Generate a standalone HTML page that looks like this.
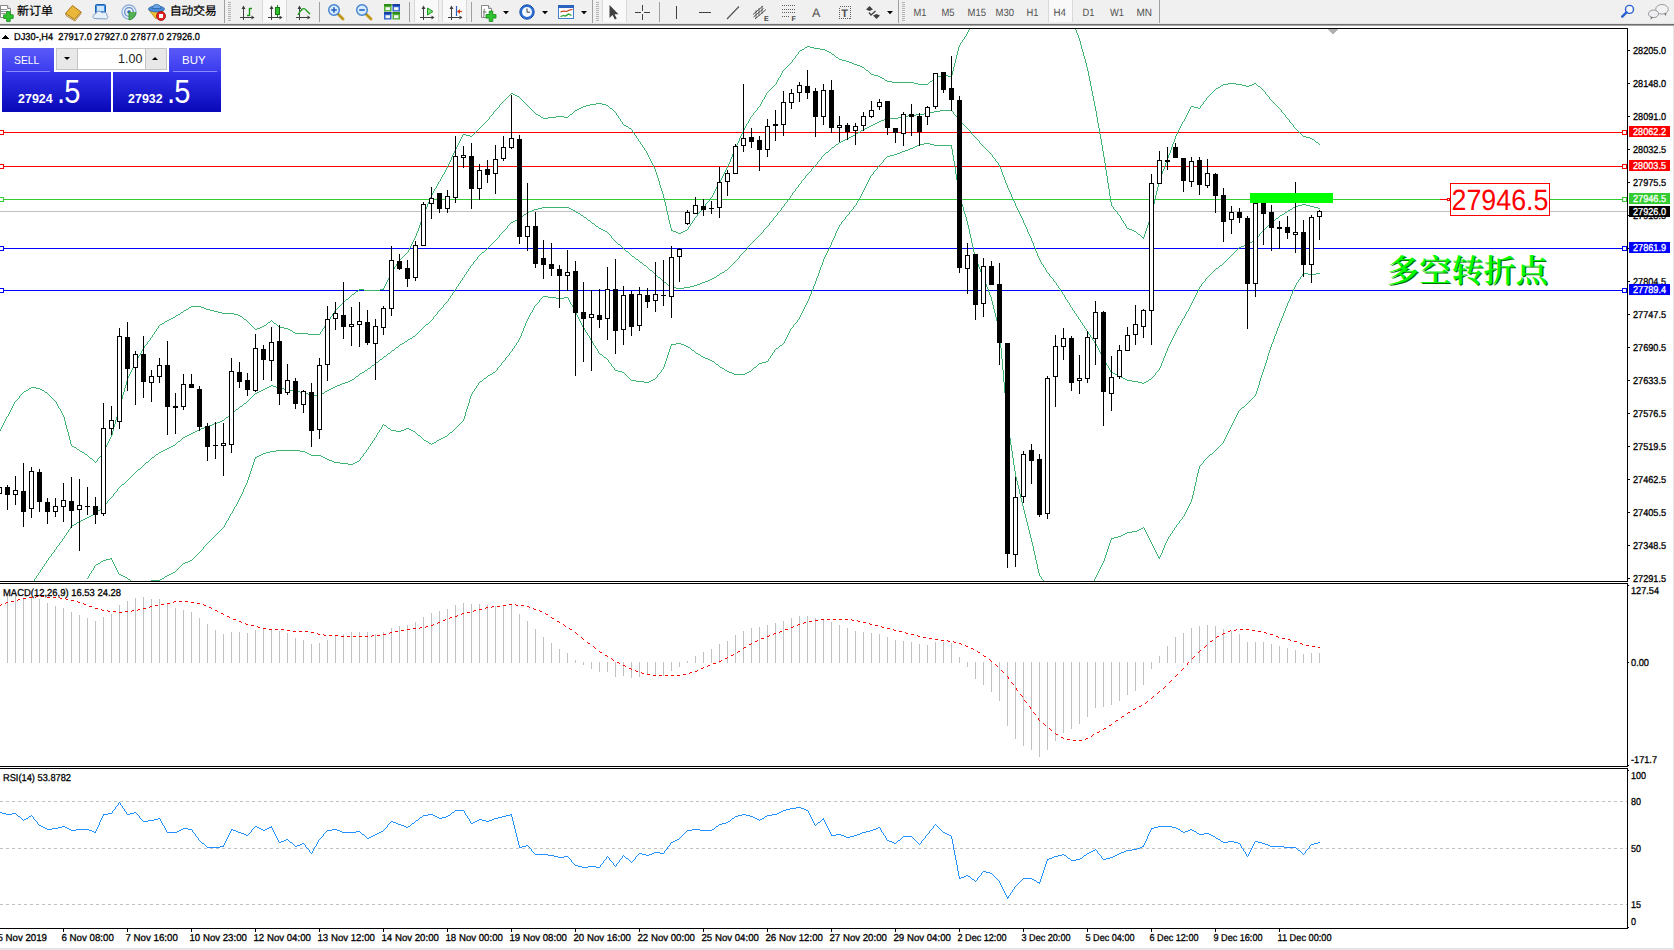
<!DOCTYPE html>
<html><head><meta charset="utf-8"><title>DJ30-,H4</title>
<style>
html,body{margin:0;padding:0;background:#fff;overflow:hidden}
body{width:1674px;height:950px;position:relative;font-family:"Liberation Sans","Noto Sans CJK SC",sans-serif}
#tb{position:absolute;left:0;top:0;width:1674px;height:23px;background:#f0f0f0}
#tbl1{position:absolute;left:0;top:23px;width:1674px;height:1px;background:#e4e4e4}
#tbl2{position:absolute;left:0;top:24px;width:1674px;height:1px;background:#6e6e6e}
#tbl3{position:absolute;left:0;top:25px;width:1674px;height:1px;background:#a6a6a6}
#bot{position:absolute;left:0;top:948px;width:1674px;height:2px;background:#e4e4e4}
#rgt{position:absolute;left:1673px;top:26px;width:1px;height:924px;background:#e8e8e8}
.t{position:absolute;white-space:nowrap}
.sep{position:absolute;top:2px;width:1px;height:20px;background:#a0a0a0}
.grip{position:absolute;top:2px;width:3px;height:19px;background:repeating-linear-gradient(#b8b8b8 0 1px,#f0f0f0 1px 2px)}
.sel{position:absolute;top:0;height:22px;background:#f8f8f8;border:1px solid #d8d8d8;border-top:none;box-sizing:border-box}
.tf{position:absolute;top:6px;font-size:10.5px;color:#505050}
.dd{position:absolute;top:11px;width:0;height:0;border-left:3px solid transparent;border-right:3px solid transparent;border-top:3px solid #000}
svg{position:absolute;left:0;top:0}
svg text{font-family:"Liberation Sans",sans-serif;text-rendering:geometricPrecision}
.k{stroke:#000;stroke-width:0.3px}
.kw{stroke:#fff;stroke-width:0.3px}
#tp{position:absolute;left:2px;top:48px;width:219px;height:64px}
#tp div{position:absolute}
.ic{position:absolute}
</style></head><body>
<div id="tb"></div><div id="tbl1"></div><div id="tbl2"></div><div id="tbl3"></div>
<div id="bot"></div><div id="rgt"></div>
<svg width="1674" height="24" viewBox="0 0 1674 24" style="position:absolute;left:0;top:0">
<g><path d="M0.5 5.5h7l3 3v9h-10z" fill="#fff" stroke="#8a8a8a"/><path d="M7.5 5.5v3h3" fill="#e8e8e8" stroke="#8a8a8a"/><path d="M1 9.5h6M1 11.5h7M1 13.5h5" stroke="#9a9a9a"/><path d="M3.6 14.8h3v-3.2h3.6v3.2h3v3.6h-3v3.2h-3.6v-3.2h-3z" fill="#2fc12f" stroke="#138a13" stroke-width="0.8"/></g>
<text x="17" y="14.8" font-size="12" fill="#000" stroke="#000" stroke-width="0.2" style="font-family:'Liberation Sans','Noto Sans CJK SC',sans-serif">新订单</text>
<g><path d="M65.5 13.5l7-8 8.5 6.5-6.5 7.5z" fill="#e9b73a" stroke="#a9741a" stroke-width="1"/><path d="M65.5 13.5l1 2.5 8.5 5 6-7.5v-1.5l-6.5 7.5z" fill="#f6e6b0" stroke="#a9741a" stroke-width="0.8"/></g>
<g><rect x="95.5" y="4.5" width="10" height="9" rx="1" fill="#3f8fe0" stroke="#1d5fb0"/><rect x="97" y="6" width="7" height="5" fill="#cfe6ff"/><path d="M94 18.5a2.5 2.5 0 0 1 1.5-4.5 3.5 3.5 0 0 1 6.5-1 3 3 0 0 1 5 2.5 2 2 0 0 1-0.5 3.5z" fill="#e8f0fa" stroke="#7d9cc4" stroke-width="1"/></g>
<g fill="none"><circle cx="129" cy="12" r="7" stroke="#8fb0e0" stroke-width="1.3"/><circle cx="129" cy="12" r="4.3" stroke="#5a8ad0" stroke-width="1.3"/><circle cx="129" cy="12" r="1.8" fill="#2a62c0"/><path d="M129 12v8a8 8 0 0 0 7-8" fill="#55b055" stroke="#2f8f2f" stroke-width="0.8"/></g>
<g><path d="M149 10l7 9 8-9z" fill="#f1c232" stroke="#b48a12" stroke-width="0.8"/><ellipse cx="156.5" cy="9" rx="8" ry="3" fill="#4c8fd6" stroke="#2a62a8" stroke-width="0.8"/><path d="M152 8.5a4.5 4 0 0 1 9 0z" fill="#6aa6e6" stroke="#2a62a8" stroke-width="0.8"/><circle cx="161" cy="16" r="4.5" fill="#e02020" stroke="#a00c0c" stroke-width="0.8"/><rect x="159" y="14" width="4" height="4" fill="#fff"/></g>
<text x="169.7" y="14.8" font-size="12" fill="#000" stroke="#000" stroke-width="0.2" textLength="47" style="font-family:'Liberation Sans','Noto Sans CJK SC',sans-serif">自动交易</text>
<rect x="224" y="0" width="1" height="23" fill="#a0a0a0"/>
<rect x="228" y="2" width="3" height="1" fill="#b4b4b4"/>
<rect x="228" y="4" width="3" height="1" fill="#b4b4b4"/>
<rect x="228" y="6" width="3" height="1" fill="#b4b4b4"/>
<rect x="228" y="8" width="3" height="1" fill="#b4b4b4"/>
<rect x="228" y="10" width="3" height="1" fill="#b4b4b4"/>
<rect x="228" y="12" width="3" height="1" fill="#b4b4b4"/>
<rect x="228" y="14" width="3" height="1" fill="#b4b4b4"/>
<rect x="228" y="16" width="3" height="1" fill="#b4b4b4"/>
<rect x="228" y="18" width="3" height="1" fill="#b4b4b4"/>
<rect x="228" y="20" width="3" height="1" fill="#b4b4b4"/>
<g stroke="#404040" stroke-width="1" fill="none" shape-rendering="crispEdges"><line x1="243.5" y1="7" x2="243.5" y2="20"/><line x1="240" y1="17.5" x2="254" y2="17.5"/></g>
<polygon points="241.5,9 243.5,5.5 245.5,9" fill="#404040"/><polygon points="251.5,15.5 254.5,17.5 251.5,19.5" fill="#404040"/>
<path d="M249.5 8v8M249.5 8.5h2.5M247 15.5h2.5" stroke="#1a9a1a" stroke-width="1.4" fill="none"/>
<rect x="262" y="0" width="25" height="22" fill="#f9f9f9"/><rect x="262" y="0" width="1" height="22" fill="#d9d9d9"/><rect x="286" y="0" width="1" height="22" fill="#d9d9d9"/>
<g stroke="#404040" stroke-width="1" fill="none" shape-rendering="crispEdges"><line x1="271.5" y1="7" x2="271.5" y2="20"/><line x1="268" y1="17.5" x2="282" y2="17.5"/></g>
<polygon points="269.5,9 271.5,5.5 273.5,9" fill="#404040"/><polygon points="279.5,15.5 282.5,17.5 279.5,19.5" fill="#404040"/>
<path d="M277.5 5v12" stroke="#1a7a1a" stroke-width="1"/><rect x="275.5" y="7.5" width="4" height="7" fill="#2fc12f" stroke="#1a7a1a"/>
<g stroke="#404040" stroke-width="1" fill="none" shape-rendering="crispEdges"><line x1="299.5" y1="7" x2="299.5" y2="20"/><line x1="296" y1="17.5" x2="310" y2="17.5"/></g>
<polygon points="297.5,9 299.5,5.5 301.5,9" fill="#404040"/><polygon points="307.5,15.5 310.5,17.5 307.5,19.5" fill="#404040"/>
<path d="M298 15c3-6 6-8 8-5l4 4" stroke="#1a9a1a" stroke-width="1.3" fill="none"/>
<rect x="319" y="2" width="1" height="20" fill="#a0a0a0"/>
<path d="M337.5 13.5l5.5 5.5" stroke="#c9a227" stroke-width="3" stroke-linecap="round"/><path d="M337.5 13.5l5.5 5.5" stroke="#8a6d10" stroke-width="0.6" fill="none"/>
<circle cx="334" cy="10" r="5.3" fill="#d8ecff" stroke="#3f7fd0" stroke-width="1.4"/>
<path d="M331.2 10h5.6" stroke="#2a62c0" stroke-width="1.6"/>
<path d="M334 7.2v5.6" stroke="#2a62c0" stroke-width="1.6"/>
<path d="M365.5 13.5l5.5 5.5" stroke="#c9a227" stroke-width="3" stroke-linecap="round"/><path d="M365.5 13.5l5.5 5.5" stroke="#8a6d10" stroke-width="0.6" fill="none"/>
<circle cx="362" cy="10" r="5.3" fill="#d8ecff" stroke="#3f7fd0" stroke-width="1.4"/>
<path d="M359.2 10h5.6" stroke="#2a62c0" stroke-width="1.6"/>
<rect x="384" y="4" width="7.5" height="7.5" fill="#4caf2f"/><rect x="384" y="4" width="7.5" height="2" fill="#2f8a1a"/><rect x="385.5" y="7.2" width="4.5" height="3" fill="#f4f4f4"/>
<rect x="392.5" y="4" width="7.5" height="7.5" fill="#2a62d0"/><rect x="392.5" y="4" width="7.5" height="2" fill="#1a3fa0"/><rect x="394.0" y="7.2" width="4.5" height="3" fill="#f4f4f4"/>
<rect x="384" y="12" width="7.5" height="7.5" fill="#2a62d0"/><rect x="384" y="12" width="7.5" height="2" fill="#1a3fa0"/><rect x="385.5" y="15.2" width="4.5" height="3" fill="#f4f4f4"/>
<rect x="392.5" y="12" width="7.5" height="7.5" fill="#4caf2f"/><rect x="392.5" y="12" width="7.5" height="2" fill="#2f8a1a"/><rect x="394.0" y="15.2" width="4.5" height="3" fill="#f4f4f4"/>
<rect x="409" y="2" width="1" height="20" fill="#a0a0a0"/>
<rect x="414" y="0" width="25" height="22" fill="#f9f9f9"/><rect x="414" y="0" width="1" height="22" fill="#d9d9d9"/><rect x="438" y="0" width="1" height="22" fill="#d9d9d9"/>
<g stroke="#404040" stroke-width="1" fill="none" shape-rendering="crispEdges"><line x1="423.5" y1="7" x2="423.5" y2="20"/><line x1="420" y1="17.5" x2="434" y2="17.5"/></g>
<polygon points="421.5,9 423.5,5.5 425.5,9" fill="#404040"/><polygon points="431.5,15.5 434.5,17.5 431.5,19.5" fill="#404040"/>
<polygon points="427.5,8 427.5,15 433,11.5" fill="#7fe07f" stroke="#1a9a1a" stroke-width="1"/>
<rect x="442" y="0" width="25" height="22" fill="#f9f9f9"/><rect x="442" y="0" width="1" height="22" fill="#d9d9d9"/><rect x="466" y="0" width="1" height="22" fill="#d9d9d9"/>
<g stroke="#404040" stroke-width="1" fill="none" shape-rendering="crispEdges"><line x1="451.5" y1="7" x2="451.5" y2="20"/><line x1="448" y1="17.5" x2="462" y2="17.5"/></g>
<polygon points="449.5,9 451.5,5.5 453.5,9" fill="#404040"/><polygon points="459.5,15.5 462.5,17.5 459.5,19.5" fill="#404040"/>
<path d="M456.5 6v10" stroke="#2a62c0" stroke-width="1.2"/><path d="M462 11.5h-4" stroke="#d04010" stroke-width="1.2"/><polygon points="460,9 457,11.5 460,14" fill="#d04010"/>
<rect x="471" y="2" width="1" height="20" fill="#a0a0a0"/>
<path d="M481.5 5.5h7l3 3v9h-10z" fill="#fff" stroke="#8a8a8a"/><path d="M488.5 5.5v3h3" fill="#e8e8e8" stroke="#8a8a8a"/><path d="M485 9c-1 0-1 1-1 2v4c0 1 0 2-1 2M483.5 12h3" stroke="#6a6a6a" fill="none"/><path d="M486 14.5h3.2v-3.4h3.6v3.4h3.2v3.6h-3.2v3.4h-3.6v-3.4h-3.2z" fill="#2fc12f" stroke="#138a13" stroke-width="0.8"/>
<polygon points="503,11 509,11 506,14.2" fill="#000"/>
<circle cx="527" cy="12" r="7.2" fill="#2a6fd8" stroke="#1a4fa8" stroke-width="1"/><circle cx="527" cy="12" r="5" fill="#f4f8ff"/><path d="M527 8.5v3.7h3" stroke="#404040" stroke-width="1" fill="none"/>
<polygon points="542,11 548,11 545,14.2" fill="#000"/>
<rect x="558.5" y="5.500" width="15" height="13" fill="#fbfbfb" stroke="#3f7fd0"/><rect x="558" y="5" width="16" height="3" fill="#2a62c0"/><path d="M560.500 12l3-1 3 0.500 3-1.500 3-0.500" stroke="#c03010" stroke-width="1.200" fill="none"/><path d="M560.500 16.500l3-1 2 0.500 3-2 3 1.500" stroke="#1a9a1a" stroke-width="1.200" fill="none"/>
<polygon points="581,11 587,11 584,14.2" fill="#000"/>
<rect x="592" y="0" width="1" height="23" fill="#a0a0a0"/>
<rect x="596" y="2" width="3" height="1" fill="#b4b4b4"/>
<rect x="596" y="4" width="3" height="1" fill="#b4b4b4"/>
<rect x="596" y="6" width="3" height="1" fill="#b4b4b4"/>
<rect x="596" y="8" width="3" height="1" fill="#b4b4b4"/>
<rect x="596" y="10" width="3" height="1" fill="#b4b4b4"/>
<rect x="596" y="12" width="3" height="1" fill="#b4b4b4"/>
<rect x="596" y="14" width="3" height="1" fill="#b4b4b4"/>
<rect x="596" y="16" width="3" height="1" fill="#b4b4b4"/>
<rect x="596" y="18" width="3" height="1" fill="#b4b4b4"/>
<rect x="596" y="20" width="3" height="1" fill="#b4b4b4"/>
<rect x="602" y="0" width="25" height="22" fill="#f9f9f9"/><rect x="602" y="0" width="1" height="22" fill="#d9d9d9"/><rect x="626" y="0" width="1" height="22" fill="#d9d9d9"/>
<path d="M609.500 5v13l3-3 2.300 4.600 2-1-2.300-4.400h4z" fill="#404040"/>
<path d="M642.500 5v6M642.500 14v6M635 12.500h6M644 12.500h6" stroke="#404040" stroke-width="1" shape-rendering="crispEdges"/>
<rect x="659" y="2" width="1" height="20" fill="#a0a0a0"/>
<rect x="676" y="6" width="1" height="13" fill="#404040"/>
<rect x="699" y="12" width="12" height="1" fill="#404040"/>
<path d="M727 19l12-12.500" stroke="#505050" stroke-width="1.100"/>
<g stroke="#505050" stroke-width="1" fill="none"><path d="M753 14.500l10-8.500M755 19l11-9.500M753.500 17l10-8.500"/><path d="M756 10v8M759 8v8M762 6v8" stroke-width="0.800"/></g>
<text x="764" y="20.500" font-size="7" font-weight="700" fill="#404040" style="font-family:'Liberation Sans',sans-serif">E</text>
<path d="M782 5.5h13" stroke="#606060" stroke-width="1" stroke-dasharray="1 1" shape-rendering="crispEdges"/>
<path d="M782 9.5h13" stroke="#606060" stroke-width="1" stroke-dasharray="1 1" shape-rendering="crispEdges"/>
<path d="M782 12.5h13" stroke="#606060" stroke-width="1" stroke-dasharray="1 1" shape-rendering="crispEdges"/>
<path d="M782 16.5h8" stroke="#606060" stroke-width="1" stroke-dasharray="1 1" shape-rendering="crispEdges"/>
<text x="791.500" y="20.500" font-size="7" font-weight="700" fill="#404040" style="font-family:'Liberation Sans',sans-serif">F</text>
<text x="812" y="17" font-size="12.500" fill="#505050" style="font-family:'Liberation Sans',sans-serif">A</text>
<rect x="839.500" y="6.500" width="11" height="12" fill="none" stroke="#606060" stroke-dasharray="1 1" shape-rendering="crispEdges"/><text x="841.300" y="17" font-size="11" font-weight="700" fill="#505050" style="font-family:'Liberation Sans',sans-serif">T</text>
<polygon points="866,9.500 869.500,6 873,9.500 869.500,11" fill="#404040"/><polygon points="873,15.500 876.500,19 880,15.500 876.500,14" fill="#404040"/><path d="M869 12.500l2 2.500 4.500-4" stroke="#404040" stroke-width="1.300" fill="none"/>
<polygon points="887,11 893,11 890,14.2" fill="#000"/>
<rect x="898" y="0" width="1" height="23" fill="#a0a0a0"/>
<rect x="902" y="2" width="3" height="1" fill="#b4b4b4"/>
<rect x="902" y="4" width="3" height="1" fill="#b4b4b4"/>
<rect x="902" y="6" width="3" height="1" fill="#b4b4b4"/>
<rect x="902" y="8" width="3" height="1" fill="#b4b4b4"/>
<rect x="902" y="10" width="3" height="1" fill="#b4b4b4"/>
<rect x="902" y="12" width="3" height="1" fill="#b4b4b4"/>
<rect x="902" y="14" width="3" height="1" fill="#b4b4b4"/>
<rect x="902" y="16" width="3" height="1" fill="#b4b4b4"/>
<rect x="902" y="18" width="3" height="1" fill="#b4b4b4"/>
<rect x="902" y="20" width="3" height="1" fill="#b4b4b4"/>
<rect x="1048" y="0" width="25" height="22" fill="#f9f9f9"/><rect x="1048" y="0" width="1" height="22" fill="#d9d9d9"/><rect x="1072" y="0" width="1" height="22" fill="#d9d9d9"/>
<text x="913.5" y="16" font-size="10.500" fill="#505050" textLength="13" lengthAdjust="spacingAndGlyphs" style="font-family:'Liberation Sans',sans-serif">M1</text>
<text x="941.5" y="16" font-size="10.500" fill="#505050" textLength="13" lengthAdjust="spacingAndGlyphs" style="font-family:'Liberation Sans',sans-serif">M5</text>
<text x="967.5" y="16" font-size="10.500" fill="#505050" textLength="18.5" lengthAdjust="spacingAndGlyphs" style="font-family:'Liberation Sans',sans-serif">M15</text>
<text x="995.5" y="16" font-size="10.500" fill="#505050" textLength="18.5" lengthAdjust="spacingAndGlyphs" style="font-family:'Liberation Sans',sans-serif">M30</text>
<text x="1026.5" y="16" font-size="10.500" fill="#505050" textLength="12" lengthAdjust="spacingAndGlyphs" style="font-family:'Liberation Sans',sans-serif">H1</text>
<text x="1053.5" y="16" font-size="10.500" fill="#505050" textLength="12.5" lengthAdjust="spacingAndGlyphs" style="font-family:'Liberation Sans',sans-serif">H4</text>
<text x="1082.5" y="16" font-size="10.500" fill="#505050" textLength="12" lengthAdjust="spacingAndGlyphs" style="font-family:'Liberation Sans',sans-serif">D1</text>
<text x="1110" y="16" font-size="10.500" fill="#505050" textLength="14" lengthAdjust="spacingAndGlyphs" style="font-family:'Liberation Sans',sans-serif">W1</text>
<text x="1136.5" y="16" font-size="10.500" fill="#505050" textLength="15.5" lengthAdjust="spacingAndGlyphs" style="font-family:'Liberation Sans',sans-serif">MN</text>
<rect x="1159" y="0" width="1" height="23" fill="#a0a0a0"/>
<circle cx="1629.500" cy="9.400" r="4" fill="#f8f8f8" stroke="#2a5fd0" stroke-width="1.400"/><path d="M1626.500 12.400l-4.300 4.300" stroke="#2a5fd0" stroke-width="2.400" stroke-linecap="round"/>
<g transform="translate(0,0.8)"><ellipse cx="1662" cy="8.500" rx="6.300" ry="4.800" fill="#f2f2f5" stroke="#9a9a9a"/><path d="M1664 12.500l2 3 0.300-3.300" fill="#707070"/><ellipse cx="1653.500" cy="13" rx="5" ry="3.800" fill="#ededf2" stroke="#959595"/><path d="M1651 16l-0.500 3 2.500-2.600" fill="#707070"/></g>
</svg>
<svg width="1674" height="950" viewBox="0 0 1674 950" shape-rendering="crispEdges">
<rect x="0" y="28" width="1628" height="1" fill="#000"/>
<rect x="1627" y="28" width="1" height="554" fill="#000"/>
<rect x="0" y="581" width="1628" height="1" fill="#000"/>
<rect x="0" y="583" width="1628" height="1" fill="#000"/>
<rect x="1627" y="583" width="1" height="184" fill="#000"/>
<rect x="0" y="766" width="1628" height="1" fill="#000"/>
<rect x="0" y="768" width="1628" height="1" fill="#000"/>
<rect x="1627" y="768" width="1" height="161" fill="#000"/>
<rect x="0" y="928" width="1628" height="1" fill="#000"/>
<rect x="1628" y="50" width="2" height="1" fill="#000"/>
<text x="1633" y="53.6" font-size="10" fill="#000" class="k" textLength="33" lengthAdjust="spacingAndGlyphs">28205.0</text>
<rect x="1628" y="83" width="2" height="1" fill="#000"/>
<text x="1633" y="86.6" font-size="10" fill="#000" class="k" textLength="33" lengthAdjust="spacingAndGlyphs">28148.0</text>
<rect x="1628" y="116" width="2" height="1" fill="#000"/>
<text x="1633" y="119.6" font-size="10" fill="#000" class="k" textLength="33" lengthAdjust="spacingAndGlyphs">28091.0</text>
<rect x="1628" y="149" width="2" height="1" fill="#000"/>
<text x="1633" y="152.6" font-size="10" fill="#000" class="k" textLength="33" lengthAdjust="spacingAndGlyphs">28032.5</text>
<rect x="1628" y="182" width="2" height="1" fill="#000"/>
<text x="1633" y="185.6" font-size="10" fill="#000" class="k" textLength="33" lengthAdjust="spacingAndGlyphs">27975.5</text>
<rect x="1628" y="215" width="2" height="1" fill="#000"/>
<text x="1633" y="218.6" font-size="10" fill="#000" class="k" textLength="33" lengthAdjust="spacingAndGlyphs">27918.5</text>
<rect x="1628" y="248" width="2" height="1" fill="#000"/>
<text x="1633" y="251.6" font-size="10" fill="#000" class="k" textLength="33" lengthAdjust="spacingAndGlyphs">27861.5</text>
<rect x="1628" y="281" width="2" height="1" fill="#000"/>
<text x="1633" y="284.6" font-size="10" fill="#000" class="k" textLength="33" lengthAdjust="spacingAndGlyphs">27804.5</text>
<rect x="1628" y="314" width="2" height="1" fill="#000"/>
<text x="1633" y="317.6" font-size="10" fill="#000" class="k" textLength="33" lengthAdjust="spacingAndGlyphs">27747.5</text>
<rect x="1628" y="347" width="2" height="1" fill="#000"/>
<text x="1633" y="350.6" font-size="10" fill="#000" class="k" textLength="33" lengthAdjust="spacingAndGlyphs">27690.5</text>
<rect x="1628" y="380" width="2" height="1" fill="#000"/>
<text x="1633" y="383.6" font-size="10" fill="#000" class="k" textLength="33" lengthAdjust="spacingAndGlyphs">27633.5</text>
<rect x="1628" y="413" width="2" height="1" fill="#000"/>
<text x="1633" y="416.6" font-size="10" fill="#000" class="k" textLength="33" lengthAdjust="spacingAndGlyphs">27576.5</text>
<rect x="1628" y="446" width="2" height="1" fill="#000"/>
<text x="1633" y="449.6" font-size="10" fill="#000" class="k" textLength="33" lengthAdjust="spacingAndGlyphs">27519.5</text>
<rect x="1628" y="479" width="2" height="1" fill="#000"/>
<text x="1633" y="482.6" font-size="10" fill="#000" class="k" textLength="33" lengthAdjust="spacingAndGlyphs">27462.5</text>
<rect x="1628" y="512" width="2" height="1" fill="#000"/>
<text x="1633" y="515.6" font-size="10" fill="#000" class="k" textLength="33" lengthAdjust="spacingAndGlyphs">27405.5</text>
<rect x="1628" y="545" width="2" height="1" fill="#000"/>
<text x="1633" y="548.6" font-size="10" fill="#000" class="k" textLength="33" lengthAdjust="spacingAndGlyphs">27348.5</text>
<rect x="1628" y="578" width="2" height="1" fill="#000"/>
<text x="1633" y="581.6" font-size="10" fill="#000" class="k" textLength="33" lengthAdjust="spacingAndGlyphs">27291.5</text>
<clipPath id="cm"><rect x="0" y="29" width="1627" height="552"/></clipPath>
<g clip-path="url(#cm)">
<rect x="0" y="132" width="1627" height="1" fill="#ff0000"/>
<rect x="0" y="166" width="1627" height="1" fill="#ff0000"/>
<rect x="0" y="199" width="1627" height="1" fill="#32cd32"/>
<rect x="0" y="211" width="1627" height="1" fill="#c0c0c0"/>
<rect x="0" y="248" width="1627" height="1" fill="#0000ff"/>
<rect x="0" y="290" width="1627" height="1" fill="#0000ff"/>
<path d="M969 29h1v1h-1zM1075 29h1v1h-1zM968 30h1v2h-1zM1076 30h1v3h-1zM967 32h1v2h-1zM1077 33h1v2h-1zM966 34h1v2h-1zM1078 35h1v3h-1zM965 36h1v1h-1zM964 37h1v2h-1zM1079 38h1v3h-1zM963 39h1v1h-1zM962 40h1v2h-1zM1080 41h1v4h-1zM961 42h1v1h-1zM960 43h1v2h-1zM959 45h1v2h-1zM1081 45h1v4h-1zM807 46h3v1h-3zM805 47h2v1h-2zM810 47h4v1h-4zM958 47h1v4h-1zM804 48h1v1h-1zM814 48h6v1h-6zM802 49h2v1h-2zM820 49h5v1h-5zM1082 49h1v3h-1zM800 50h2v1h-2zM825 50h2v1h-2zM799 51h1v1h-1zM827 51h2v1h-2zM957 51h1v4h-1zM798 52h1v2h-1zM829 52h2v1h-2zM1083 52h1v4h-1zM831 53h1v1h-1zM797 54h1v1h-1zM832 54h2v1h-2zM796 55h1v1h-1zM834 55h1v1h-1zM956 55h1v4h-1zM795 56h1v2h-1zM835 56h1v1h-1zM1084 56h1v3h-1zM836 57h2v1h-2zM794 58h1v1h-1zM838 58h1v1h-1zM793 59h1v1h-1zM839 59h3v1h-3zM955 59h1v4h-1zM1085 59h1v4h-1zM792 60h1v2h-1zM842 60h4v1h-4zM846 61h3v1h-3zM791 62h1v1h-1zM849 62h3v1h-3zM790 63h1v1h-1zM852 63h2v1h-2zM954 63h1v4h-1zM1086 63h1v4h-1zM789 64h1v1h-1zM854 64h3v1h-3zM788 65h1v1h-1zM857 65h3v1h-3zM787 66h1v1h-1zM860 66h2v1h-2zM786 67h1v1h-1zM862 67h2v1h-2zM953 67h1v4h-1zM1087 67h1v4h-1zM785 68h1v1h-1zM864 68h1v1h-1zM784 69h1v1h-1zM865 69h1v1h-1zM783 70h1v1h-1zM866 70h2v1h-2zM782 71h1v2h-1zM868 71h1v1h-1zM952 71h1v4h-1zM1088 71h1v5h-1zM869 72h1v1h-1zM781 73h1v2h-1zM870 73h1v1h-1zM871 74h3v1h-3zM780 75h1v2h-1zM874 75h4v1h-4zM942 75h6v1h-6zM951 75h1v2h-1zM878 76h2v1h-2zM938 76h4v1h-4zM948 76h3v1h-3zM1089 76h1v5h-1zM779 77h1v1h-1zM880 77h2v1h-2zM935 77h3v1h-3zM778 78h1v2h-1zM882 78h2v1h-2zM934 78h1v1h-1zM884 79h1v1h-1zM933 79h1v1h-1zM777 80h1v2h-1zM885 80h2v1h-2zM932 80h1v1h-1zM887 81h5v1h-5zM930 81h2v1h-2zM1090 81h1v5h-1zM776 82h1v2h-1zM892 82h22v1h-22zM929 82h1v1h-1zM914 83h4v1h-4zM928 83h1v1h-1zM1228 83h8v1h-8zM1254 83h2v1h-2zM775 84h1v1h-1zM918 84h10v1h-10zM1223 84h5v1h-5zM1236 84h6v1h-6zM1252 84h2v1h-2zM1256 84h1v1h-1zM774 85h1v1h-1zM1221 85h2v1h-2zM1242 85h4v1h-4zM1249 85h3v1h-3zM1257 85h1v1h-1zM773 86h1v1h-1zM1091 86h1v5h-1zM1220 86h1v1h-1zM1246 86h3v1h-3zM1258 86h2v1h-2zM772 87h1v1h-1zM1218 87h2v1h-2zM1260 87h1v1h-1zM771 88h1v1h-1zM1216 88h2v1h-2zM1261 88h1v1h-1zM770 89h1v1h-1zM1215 89h1v1h-1zM1262 89h1v1h-1zM769 90h1v1h-1zM1214 90h1v1h-1zM1263 90h1v1h-1zM768 91h1v1h-1zM1092 91h1v5h-1zM1213 91h1v1h-1zM1264 91h1v1h-1zM767 92h1v1h-1zM1212 92h1v1h-1zM1265 92h1v2h-1zM511 93h2v1h-2zM766 93h1v2h-1zM1211 93h1v1h-1zM510 94h1v1h-1zM513 94h2v1h-2zM1210 94h1v1h-1zM1266 94h1v1h-1zM509 95h1v1h-1zM515 95h2v1h-2zM765 95h1v2h-1zM1209 95h1v1h-1zM1267 95h1v1h-1zM508 96h1v1h-1zM517 96h2v1h-2zM1093 96h1v5h-1zM1208 96h1v1h-1zM1268 96h1v1h-1zM507 97h1v1h-1zM519 97h1v1h-1zM764 97h1v2h-1zM1207 97h1v1h-1zM1269 97h1v2h-1zM506 98h1v1h-1zM520 98h1v1h-1zM1206 98h1v2h-1zM505 99h1v1h-1zM521 99h1v1h-1zM763 99h1v1h-1zM1270 99h1v1h-1zM504 100h1v1h-1zM522 100h1v1h-1zM762 100h1v2h-1zM1205 100h1v1h-1zM1271 100h1v1h-1zM503 101h1v1h-1zM523 101h1v1h-1zM1094 101h1v5h-1zM1204 101h1v1h-1zM1272 101h1v1h-1zM502 102h1v1h-1zM524 102h1v1h-1zM761 102h1v2h-1zM1203 102h1v2h-1zM1273 102h1v1h-1zM501 103h1v1h-1zM525 103h1v1h-1zM596 103h6v1h-6zM1274 103h1v1h-1zM500 104h1v1h-1zM526 104h1v1h-1zM590 104h6v1h-6zM602 104h4v1h-4zM760 104h1v2h-1zM1202 104h1v1h-1zM1275 104h1v1h-1zM499 105h1v2h-1zM527 105h1v1h-1zM586 105h4v1h-4zM606 105h2v1h-2zM1201 105h1v1h-1zM1276 105h1v1h-1zM528 106h1v1h-1zM583 106h3v1h-3zM608 106h1v1h-1zM759 106h1v1h-1zM1095 106h1v5h-1zM1191 106h3v1h-3zM1200 106h1v2h-1zM1277 106h1v1h-1zM498 107h1v1h-1zM529 107h1v1h-1zM581 107h2v1h-2zM609 107h1v1h-1zM758 107h1v1h-1zM1190 107h1v2h-1zM1194 107h4v1h-4zM1278 107h1v1h-1zM497 108h1v1h-1zM530 108h1v1h-1zM579 108h2v1h-2zM610 108h2v1h-2zM757 108h1v2h-1zM1198 108h2v1h-2zM1279 108h1v1h-1zM496 109h1v1h-1zM531 109h1v1h-1zM577 109h2v1h-2zM612 109h1v1h-1zM1189 109h1v2h-1zM1280 109h1v1h-1zM495 110h1v1h-1zM532 110h1v1h-1zM575 110h2v1h-2zM613 110h1v1h-1zM756 110h1v1h-1zM1281 110h1v2h-1zM494 111h1v1h-1zM533 111h1v1h-1zM574 111h1v1h-1zM614 111h1v1h-1zM755 111h1v1h-1zM1096 111h1v6h-1zM1188 111h1v2h-1zM493 112h1v2h-1zM534 112h1v1h-1zM573 112h1v1h-1zM615 112h1v1h-1zM754 112h1v1h-1zM1282 112h1v1h-1zM535 113h1v1h-1zM572 113h1v1h-1zM616 113h1v2h-1zM753 113h1v2h-1zM1187 113h1v2h-1zM1283 113h1v1h-1zM492 114h1v1h-1zM536 114h2v1h-2zM570 114h2v1h-2zM1284 114h1v1h-1zM491 115h1v1h-1zM538 115h2v1h-2zM569 115h1v1h-1zM617 115h1v1h-1zM752 115h1v1h-1zM1186 115h1v2h-1zM1285 115h1v2h-1zM490 116h1v1h-1zM540 116h1v1h-1zM556 116h8v1h-8zM568 116h1v1h-1zM618 116h1v2h-1zM751 116h1v1h-1zM489 117h1v2h-1zM541 117h2v1h-2zM548 117h8v1h-8zM564 117h4v1h-4zM750 117h1v2h-1zM1097 117h1v6h-1zM1185 117h1v2h-1zM1286 117h1v1h-1zM543 118h5v1h-5zM619 118h1v1h-1zM1287 118h1v1h-1zM488 119h1v1h-1zM620 119h1v2h-1zM749 119h1v2h-1zM1184 119h1v2h-1zM1288 119h1v1h-1zM487 120h1v1h-1zM1289 120h1v2h-1zM486 121h1v1h-1zM621 121h1v1h-1zM748 121h1v2h-1zM1183 121h1v1h-1zM485 122h1v1h-1zM622 122h1v2h-1zM1182 122h1v2h-1zM1290 122h1v1h-1zM484 123h1v1h-1zM747 123h1v1h-1zM1098 123h1v5h-1zM1291 123h1v1h-1zM483 124h1v1h-1zM623 124h1v1h-1zM746 124h1v2h-1zM1181 124h1v2h-1zM1292 124h1v1h-1zM482 125h1v1h-1zM624 125h2v1h-2zM1293 125h1v2h-1zM481 126h1v1h-1zM626 126h2v1h-2zM745 126h1v2h-1zM1180 126h1v2h-1zM480 127h1v1h-1zM628 127h1v1h-1zM1294 127h1v1h-1zM479 128h1v1h-1zM629 128h2v1h-2zM744 128h1v2h-1zM1099 128h1v6h-1zM1179 128h1v2h-1zM1295 128h1v1h-1zM478 129h1v1h-1zM631 129h1v1h-1zM1296 129h1v1h-1zM477 130h1v1h-1zM632 130h1v2h-1zM743 130h1v2h-1zM1178 130h1v2h-1zM1297 130h1v1h-1zM476 131h1v1h-1zM1298 131h1v1h-1zM475 132h1v1h-1zM633 132h1v1h-1zM742 132h1v2h-1zM1177 132h1v2h-1zM1299 132h1v1h-1zM474 133h1v1h-1zM634 133h1v2h-1zM1300 133h1v1h-1zM463 134h3v1h-3zM473 134h1v1h-1zM741 134h1v2h-1zM1100 134h1v5h-1zM1176 134h1v2h-1zM1301 134h1v1h-1zM462 135h1v2h-1zM466 135h4v1h-4zM472 135h1v1h-1zM635 135h1v1h-1zM1302 135h1v1h-1zM470 136h2v1h-2zM636 136h1v2h-1zM740 136h1v2h-1zM1175 136h1v3h-1zM1303 136h3v1h-3zM461 137h1v2h-1zM1306 137h4v1h-4zM637 138h1v1h-1zM739 138h1v3h-1zM1310 138h2v1h-2zM460 139h1v2h-1zM638 139h1v2h-1zM1101 139h1v6h-1zM1174 139h1v3h-1zM1312 139h2v1h-2zM1314 140h1v1h-1zM459 141h1v2h-1zM639 141h1v1h-1zM738 141h1v2h-1zM1315 141h1v1h-1zM640 142h1v2h-1zM1173 142h1v2h-1zM1316 142h2v1h-2zM458 143h1v2h-1zM737 143h1v2h-1zM1318 143h1v1h-1zM641 144h1v1h-1zM1172 144h1v3h-1zM1319 144h1v1h-1zM457 145h1v2h-1zM642 145h1v2h-1zM736 145h1v2h-1zM1102 145h1v6h-1zM456 147h1v2h-1zM643 147h1v1h-1zM735 147h1v3h-1zM1171 147h1v3h-1zM644 148h1v2h-1zM455 149h1v2h-1zM645 150h1v1h-1zM734 150h1v2h-1zM1170 150h1v3h-1zM454 151h1v2h-1zM646 151h1v2h-1zM1103 151h1v6h-1zM733 152h1v2h-1zM453 153h1v2h-1zM647 153h1v2h-1zM1169 153h1v2h-1zM732 154h1v3h-1zM452 155h1v2h-1zM648 155h1v2h-1zM1168 155h1v3h-1zM451 157h1v3h-1zM649 157h1v2h-1zM731 157h1v2h-1zM1104 157h1v6h-1zM1167 158h1v3h-1zM650 159h1v2h-1zM730 159h1v3h-1zM450 160h1v2h-1zM651 161h1v2h-1zM1166 161h1v2h-1zM449 162h1v2h-1zM729 162h1v2h-1zM652 163h1v2h-1zM1105 163h1v7h-1zM1165 163h1v3h-1zM448 164h1v2h-1zM728 164h1v2h-1zM653 165h1v2h-1zM447 166h1v2h-1zM727 166h1v2h-1zM1164 166h1v3h-1zM654 167h1v2h-1zM446 168h1v2h-1zM726 168h1v2h-1zM655 169h1v3h-1zM1163 169h1v2h-1zM445 170h1v2h-1zM725 170h1v2h-1zM1106 170h1v6h-1zM1162 171h1v3h-1zM444 172h1v2h-1zM656 172h1v3h-1zM724 172h1v2h-1zM443 174h1v1h-1zM723 174h1v2h-1zM1161 174h1v3h-1zM442 175h1v2h-1zM657 175h1v3h-1zM722 176h1v2h-1zM1107 176h1v7h-1zM441 177h1v2h-1zM1160 177h1v2h-1zM658 178h1v3h-1zM721 178h1v2h-1zM440 179h1v2h-1zM1159 179h1v4h-1zM720 180h1v2h-1zM439 181h1v1h-1zM659 181h1v4h-1zM438 182h1v2h-1zM719 182h1v1h-1zM718 183h1v2h-1zM1108 183h1v6h-1zM1158 183h1v4h-1zM437 184h1v2h-1zM660 185h1v3h-1zM717 185h1v2h-1zM436 186h1v2h-1zM716 187h1v2h-1zM1157 187h1v4h-1zM435 188h1v1h-1zM661 188h1v3h-1zM434 189h1v2h-1zM715 189h1v2h-1zM1109 189h1v7h-1zM433 191h1v2h-1zM662 191h1v3h-1zM714 191h1v2h-1zM1156 191h1v4h-1zM432 193h1v2h-1zM713 193h1v2h-1zM663 194h1v4h-1zM431 195h1v2h-1zM712 195h1v2h-1zM1155 195h1v5h-1zM1110 196h1v6h-1zM430 197h1v2h-1zM711 197h1v1h-1zM664 198h1v4h-1zM710 198h1v1h-1zM429 199h1v3h-1zM709 199h1v2h-1zM1154 200h1v4h-1zM708 201h1v1h-1zM428 202h1v2h-1zM665 202h1v4h-1zM707 202h1v1h-1zM1111 202h1v4h-1zM706 203h1v1h-1zM427 204h1v3h-1zM705 204h1v2h-1zM1153 204h1v4h-1zM666 206h1v5h-1zM704 206h1v1h-1zM1112 206h1v1h-1zM426 207h1v2h-1zM703 207h1v1h-1zM1113 207h1v2h-1zM702 208h1v1h-1zM1152 208h1v4h-1zM425 209h1v3h-1zM701 209h1v2h-1zM1114 209h1v1h-1zM1115 210h1v1h-1zM667 211h1v4h-1zM700 211h1v1h-1zM1116 211h1v1h-1zM424 212h1v2h-1zM699 212h1v1h-1zM1117 212h1v2h-1zM1151 212h1v4h-1zM698 213h1v1h-1zM423 214h1v3h-1zM697 214h1v2h-1zM1118 214h1v1h-1zM668 215h1v5h-1zM1119 215h1v1h-1zM696 216h1v1h-1zM1120 216h1v2h-1zM1150 216h1v3h-1zM422 217h1v3h-1zM695 217h1v1h-1zM694 218h1v2h-1zM1121 218h1v2h-1zM1149 219h1v3h-1zM421 220h1v2h-1zM669 220h1v4h-1zM693 220h1v1h-1zM1122 220h1v1h-1zM692 221h1v2h-1zM1123 221h1v2h-1zM420 222h1v3h-1zM1148 222h1v3h-1zM691 223h1v1h-1zM1124 223h1v1h-1zM670 224h1v4h-1zM690 224h1v2h-1zM1125 224h1v2h-1zM419 225h1v3h-1zM1147 225h1v3h-1zM689 226h1v1h-1zM1126 226h1v2h-1zM688 227h1v2h-1zM418 228h1v3h-1zM671 228h1v3h-1zM1127 228h2v1h-2zM1146 228h1v3h-1zM687 229h1v1h-1zM1129 229h3v1h-3zM672 230h1v1h-1zM685 230h2v1h-2zM1132 230h2v1h-2zM417 231h1v2h-1zM673 231h3v1h-3zM683 231h2v1h-2zM1134 231h2v1h-2zM1145 231h1v3h-1zM676 232h2v1h-2zM681 232h2v1h-2zM1136 232h1v1h-1zM416 233h1v3h-1zM678 233h3v1h-3zM1137 233h1v1h-1zM1138 234h2v1h-2zM1144 234h1v3h-1zM1140 235h1v1h-1zM415 236h1v2h-1zM1141 236h1v1h-1zM1142 237h2v1h-2zM414 238h1v2h-1zM1143 238h1v1h-1zM413 240h1v2h-1zM412 242h1v2h-1zM411 244h1v2h-1zM410 246h1v2h-1zM409 248h1v2h-1zM408 250h1v2h-1zM407 252h1v1h-1zM406 253h1v1h-1zM405 254h1v1h-1zM404 255h1v1h-1zM403 256h1v1h-1zM402 257h1v1h-1zM401 258h1v1h-1zM400 259h1v1h-1zM399 260h1v1h-1zM398 261h1v2h-1zM397 263h1v1h-1zM396 264h1v2h-1zM395 266h1v1h-1zM394 267h1v2h-1zM393 269h1v1h-1zM392 270h1v2h-1zM391 272h1v2h-1zM390 274h1v2h-1zM389 276h1v2h-1zM388 278h1v2h-1zM387 280h1v2h-1zM386 282h1v2h-1zM385 284h1v2h-1zM384 286h1v2h-1zM383 288h1v2h-1zM359 289h5v1h-5zM380 289h3v1h-3zM358 290h1v1h-1zM364 290h16v1h-16zM356 291h2v1h-2zM355 292h1v1h-1zM354 293h1v1h-1zM352 294h2v1h-2zM351 295h1v1h-1zM350 296h1v1h-1zM349 297h1v1h-1zM348 298h1v1h-1zM346 299h2v1h-2zM345 300h1v1h-1zM344 301h1v1h-1zM343 302h1v1h-1zM342 303h1v1h-1zM341 304h1v1h-1zM340 305h1v1h-1zM191 306h10v1h-10zM339 306h1v1h-1zM189 307h2v1h-2zM201 307h3v1h-3zM338 307h1v1h-1zM188 308h1v1h-1zM204 308h2v1h-2zM337 308h1v1h-1zM186 309h2v1h-2zM206 309h4v1h-4zM336 309h1v1h-1zM184 310h2v1h-2zM210 310h4v1h-4zM335 310h1v1h-1zM183 311h1v1h-1zM214 311h4v1h-4zM334 311h1v2h-1zM181 312h2v1h-2zM218 312h4v1h-4zM180 313h1v1h-1zM222 313h12v1h-12zM333 313h1v1h-1zM178 314h2v1h-2zM234 314h4v1h-4zM332 314h1v2h-1zM176 315h2v1h-2zM238 315h2v1h-2zM175 316h1v1h-1zM240 316h2v1h-2zM331 316h1v1h-1zM173 317h2v1h-2zM242 317h1v1h-1zM330 317h1v2h-1zM171 318h2v1h-2zM243 318h1v1h-1zM169 319h2v1h-2zM244 319h2v1h-2zM329 319h1v1h-1zM167 320h2v1h-2zM246 320h1v1h-1zM271 320h1v1h-1zM328 320h1v2h-1zM165 321h2v1h-2zM247 321h1v1h-1zM270 321h1v1h-1zM272 321h1v1h-1zM164 322h1v1h-1zM248 322h1v1h-1zM268 322h2v1h-2zM273 322h1v1h-1zM327 322h1v1h-1zM162 323h2v1h-2zM249 323h1v1h-1zM267 323h1v1h-1zM274 323h2v1h-2zM326 323h1v2h-1zM160 324h2v1h-2zM250 324h1v1h-1zM266 324h1v1h-1zM276 324h1v1h-1zM159 325h1v1h-1zM251 325h1v1h-1zM264 325h2v1h-2zM277 325h1v1h-1zM325 325h1v1h-1zM158 326h1v2h-1zM252 326h1v1h-1zM262 326h2v1h-2zM278 326h1v1h-1zM324 326h1v2h-1zM253 327h1v1h-1zM260 327h2v1h-2zM279 327h5v1h-5zM157 328h1v1h-1zM254 328h1v1h-1zM257 328h3v1h-3zM284 328h4v1h-4zM323 328h1v1h-1zM156 329h1v2h-1zM255 329h2v1h-2zM288 329h2v1h-2zM322 329h1v2h-1zM290 330h2v1h-2zM155 331h1v1h-1zM292 331h1v1h-1zM321 331h1v1h-1zM154 332h1v2h-1zM293 332h2v1h-2zM320 332h1v2h-1zM295 333h13v1h-13zM153 334h1v1h-1zM308 334h12v1h-12zM152 335h1v2h-1zM151 337h1v1h-1zM150 338h1v2h-1zM149 340h1v1h-1zM148 341h1v1h-1zM147 342h1v2h-1zM146 344h1v1h-1zM145 345h1v1h-1zM144 346h1v2h-1zM143 348h1v1h-1zM142 349h1v2h-1zM141 351h1v2h-1zM140 353h1v2h-1zM139 355h1v1h-1zM138 356h1v2h-1zM137 358h1v2h-1zM136 360h1v2h-1zM135 362h1v2h-1zM134 364h1v2h-1zM133 366h1v2h-1zM132 368h1v2h-1zM131 370h1v2h-1zM130 372h1v2h-1zM129 374h1v2h-1zM128 376h1v2h-1zM127 378h1v3h-1zM126 381h1v4h-1zM125 385h1v3h-1zM31 387h5v1h-5zM29 388h2v1h-2zM36 388h4v1h-4zM124 388h1v4h-1zM28 389h1v1h-1zM40 389h2v1h-2zM26 390h2v1h-2zM42 390h2v1h-2zM24 391h2v1h-2zM44 391h1v1h-1zM23 392h1v1h-1zM45 392h2v1h-2zM123 392h1v3h-1zM22 393h1v1h-1zM47 393h1v1h-1zM21 394h1v1h-1zM48 394h1v1h-1zM20 395h1v1h-1zM49 395h1v1h-1zM122 395h1v4h-1zM19 396h1v2h-1zM50 396h1v1h-1zM51 397h1v1h-1zM18 398h1v1h-1zM52 398h1v1h-1zM17 399h1v1h-1zM53 399h1v1h-1zM121 399h1v3h-1zM16 400h1v1h-1zM54 400h1v1h-1zM15 401h1v1h-1zM55 401h1v1h-1zM14 402h1v2h-1zM56 402h1v2h-1zM120 402h1v4h-1zM13 404h1v2h-1zM57 404h1v2h-1zM12 406h1v2h-1zM58 406h1v2h-1zM119 406h1v3h-1zM11 408h1v2h-1zM59 408h1v1h-1zM60 409h1v2h-1zM118 409h1v4h-1zM10 410h1v2h-1zM61 411h1v2h-1zM9 412h1v2h-1zM62 413h1v2h-1zM117 413h1v4h-1zM8 414h1v2h-1zM63 415h1v2h-1zM7 416h1v1h-1zM6 417h1v2h-1zM64 417h1v4h-1zM116 417h1v3h-1zM5 419h1v2h-1zM115 420h1v4h-1zM4 421h1v2h-1zM65 421h1v4h-1zM3 423h1v2h-1zM114 424h1v3h-1zM2 425h1v2h-1zM66 425h1v4h-1zM1 427h1v2h-1zM113 427h1v4h-1zM0 429h1v2h-1zM67 429h1v3h-1zM112 431h1v4h-1zM68 432h1v4h-1zM111 435h1v2h-1zM69 436h1v4h-1zM110 437h1v2h-1zM109 439h1v2h-1zM70 440h1v4h-1zM108 441h1v2h-1zM107 443h1v2h-1zM71 444h1v2h-1zM106 445h1v2h-1zM72 446h2v1h-2zM74 447h2v1h-2zM105 447h1v2h-1zM76 448h1v1h-1zM77 449h2v1h-2zM104 449h1v2h-1zM79 450h1v1h-1zM80 451h2v1h-2zM103 451h1v2h-1zM82 452h2v1h-2zM84 453h1v1h-1zM102 453h1v1h-1zM85 454h2v1h-2zM101 454h1v2h-1zM87 455h1v1h-1zM88 456h1v1h-1zM100 456h1v1h-1zM89 457h1v1h-1zM99 457h1v1h-1zM90 458h2v1h-2zM98 458h1v1h-1zM92 459h1v1h-1zM97 459h1v2h-1zM93 460h1v1h-1zM94 461h1v1h-1zM96 461h1v1h-1zM95 462h1v1h-1z" fill="#3cb371"/>
<path d="M940 110h12v1h-12zM934 111h6v1h-6zM952 111h1v1h-1zM930 112h4v1h-4zM953 112h1v2h-1zM924 113h6v1h-6zM916 114h8v1h-8zM954 114h1v1h-1zM908 115h8v1h-8zM955 115h1v1h-1zM902 116h6v1h-6zM956 116h1v1h-1zM898 117h4v1h-4zM957 117h1v2h-1zM886 118h12v1h-12zM884 119h2v1h-2zM958 119h1v1h-1zM881 120h3v1h-3zM959 120h1v1h-1zM879 121h2v1h-2zM960 121h1v1h-1zM877 122h2v1h-2zM961 122h1v1h-1zM875 123h2v1h-2zM962 123h1v1h-1zM873 124h2v1h-2zM963 124h1v1h-1zM871 125h2v1h-2zM964 125h1v1h-1zM869 126h2v1h-2zM965 126h1v1h-1zM867 127h2v1h-2zM966 127h1v1h-1zM865 128h2v1h-2zM967 128h1v1h-1zM863 129h2v1h-2zM968 129h1v1h-1zM861 130h2v1h-2zM969 130h1v1h-1zM860 131h1v1h-1zM970 131h1v1h-1zM858 132h2v1h-2zM971 132h1v2h-1zM856 133h2v1h-2zM855 134h1v1h-1zM972 134h1v1h-1zM853 135h2v1h-2zM973 135h1v1h-1zM851 136h2v1h-2zM974 136h1v1h-1zM849 137h2v1h-2zM975 137h1v1h-1zM847 138h2v1h-2zM976 138h1v1h-1zM845 139h2v1h-2zM977 139h1v1h-1zM843 140h2v1h-2zM978 140h1v1h-1zM841 141h2v1h-2zM979 141h1v2h-1zM839 142h2v1h-2zM838 143h1v1h-1zM980 143h1v1h-1zM836 144h2v1h-2zM981 144h1v1h-1zM835 145h1v1h-1zM982 145h1v1h-1zM834 146h1v1h-1zM983 146h1v1h-1zM832 147h2v1h-2zM984 147h1v1h-1zM831 148h1v1h-1zM985 148h1v1h-1zM830 149h1v1h-1zM986 149h1v1h-1zM829 150h1v1h-1zM987 150h1v1h-1zM828 151h1v1h-1zM988 151h1v1h-1zM826 152h2v1h-2zM989 152h1v1h-1zM825 153h1v1h-1zM990 153h1v1h-1zM824 154h1v1h-1zM991 154h1v1h-1zM823 155h1v1h-1zM992 155h1v2h-1zM822 156h1v1h-1zM821 157h1v2h-1zM993 157h1v1h-1zM994 158h1v1h-1zM820 159h1v1h-1zM995 159h1v2h-1zM819 160h1v1h-1zM818 161h1v1h-1zM996 161h1v1h-1zM817 162h1v2h-1zM997 162h1v1h-1zM998 163h1v2h-1zM816 164h1v1h-1zM815 165h1v1h-1zM999 165h1v2h-1zM814 166h1v1h-1zM813 167h1v1h-1zM1000 167h1v2h-1zM812 168h1v1h-1zM811 169h1v2h-1zM1001 169h1v3h-1zM810 171h1v1h-1zM809 172h1v1h-1zM1002 172h1v3h-1zM808 173h1v1h-1zM807 174h1v1h-1zM806 175h1v1h-1zM1003 175h1v2h-1zM805 176h1v2h-1zM1004 177h1v3h-1zM804 178h1v1h-1zM803 179h1v1h-1zM802 180h1v1h-1zM1005 180h1v3h-1zM801 181h1v2h-1zM800 183h1v1h-1zM1006 183h1v2h-1zM799 184h1v1h-1zM798 185h1v2h-1zM1007 185h1v3h-1zM797 187h1v1h-1zM796 188h1v1h-1zM1008 188h1v2h-1zM795 189h1v2h-1zM1009 190h1v2h-1zM794 191h1v1h-1zM793 192h1v1h-1zM1010 192h1v2h-1zM792 193h1v2h-1zM1011 194h1v3h-1zM791 195h1v1h-1zM790 196h1v2h-1zM1012 197h1v2h-1zM789 198h1v1h-1zM788 199h1v1h-1zM1013 199h1v2h-1zM787 200h1v2h-1zM1014 201h1v2h-1zM786 202h1v1h-1zM785 203h1v1h-1zM1015 203h1v3h-1zM784 204h1v2h-1zM1302 204h4v1h-4zM1298 205h4v1h-4zM1306 205h4v1h-4zM783 206h1v1h-1zM1016 206h1v2h-1zM1295 206h3v1h-3zM1310 206h4v1h-4zM542 207h27v1h-27zM782 207h1v1h-1zM1293 207h2v1h-2zM1314 207h4v1h-4zM538 208h4v1h-4zM569 208h2v1h-2zM781 208h1v2h-1zM1017 208h1v2h-1zM1292 208h1v1h-1zM1318 208h2v1h-2zM534 209h4v1h-4zM571 209h2v1h-2zM1290 209h2v1h-2zM532 210h2v1h-2zM573 210h2v1h-2zM780 210h1v1h-1zM1018 210h1v2h-1zM1288 210h2v1h-2zM529 211h3v1h-3zM575 211h1v1h-1zM779 211h1v1h-1zM1287 211h1v1h-1zM527 212h2v1h-2zM576 212h2v1h-2zM778 212h1v1h-1zM1019 212h1v2h-1zM1285 212h2v1h-2zM526 213h1v1h-1zM578 213h2v1h-2zM777 213h1v2h-1zM1284 213h1v1h-1zM524 214h2v1h-2zM580 214h1v1h-1zM1020 214h1v2h-1zM1282 214h2v1h-2zM523 215h1v1h-1zM581 215h2v1h-2zM776 215h1v1h-1zM1280 215h2v1h-2zM522 216h1v1h-1zM583 216h1v1h-1zM775 216h1v1h-1zM1021 216h1v2h-1zM1279 216h1v1h-1zM520 217h2v1h-2zM584 217h2v1h-2zM774 217h1v1h-1zM1278 217h1v1h-1zM519 218h1v1h-1zM586 218h1v1h-1zM773 218h1v2h-1zM1022 218h1v2h-1zM1276 218h2v1h-2zM517 219h2v1h-2zM587 219h1v1h-1zM1275 219h1v1h-1zM515 220h2v1h-2zM588 220h2v1h-2zM772 220h1v1h-1zM1023 220h1v3h-1zM1274 220h1v1h-1zM513 221h2v1h-2zM590 221h1v1h-1zM771 221h1v1h-1zM1272 221h2v1h-2zM511 222h2v1h-2zM591 222h1v1h-1zM770 222h1v1h-1zM1271 222h1v1h-1zM510 223h1v1h-1zM592 223h2v1h-2zM769 223h1v2h-1zM1024 223h1v2h-1zM1270 223h1v1h-1zM509 224h1v1h-1zM594 224h1v1h-1zM1269 224h1v1h-1zM508 225h1v1h-1zM595 225h1v1h-1zM768 225h1v1h-1zM1025 225h1v2h-1zM1268 225h1v1h-1zM507 226h1v2h-1zM596 226h2v1h-2zM767 226h1v1h-1zM1267 226h1v1h-1zM598 227h1v1h-1zM766 227h1v1h-1zM1026 227h1v2h-1zM1266 227h1v1h-1zM506 228h1v1h-1zM599 228h2v1h-2zM765 228h1v1h-1zM1265 228h1v1h-1zM505 229h1v1h-1zM601 229h2v1h-2zM764 229h1v1h-1zM1027 229h1v3h-1zM1264 229h1v1h-1zM504 230h1v1h-1zM603 230h2v1h-2zM763 230h1v2h-1zM1263 230h1v1h-1zM503 231h1v1h-1zM605 231h2v1h-2zM1262 231h1v1h-1zM502 232h1v1h-1zM607 232h1v1h-1zM762 232h1v1h-1zM1028 232h1v2h-1zM1261 232h1v1h-1zM501 233h1v1h-1zM608 233h1v1h-1zM761 233h1v1h-1zM1260 233h1v1h-1zM500 234h1v1h-1zM609 234h1v1h-1zM760 234h1v1h-1zM1029 234h1v2h-1zM1259 234h1v2h-1zM499 235h1v2h-1zM610 235h1v1h-1zM759 235h1v1h-1zM611 236h1v2h-1zM758 236h1v1h-1zM1030 236h1v2h-1zM1258 236h1v1h-1zM498 237h1v1h-1zM757 237h1v1h-1zM1257 237h1v1h-1zM497 238h1v1h-1zM612 238h1v1h-1zM756 238h1v1h-1zM1031 238h1v3h-1zM1256 238h1v1h-1zM496 239h1v1h-1zM613 239h1v1h-1zM755 239h1v1h-1zM1255 239h1v1h-1zM495 240h1v1h-1zM614 240h1v1h-1zM754 240h1v1h-1zM1253 240h2v1h-2zM494 241h1v1h-1zM615 241h1v1h-1zM753 241h1v1h-1zM1032 241h1v2h-1zM1252 241h1v1h-1zM493 242h1v1h-1zM616 242h1v1h-1zM752 242h1v1h-1zM1250 242h2v1h-2zM492 243h1v1h-1zM617 243h1v1h-1zM751 243h1v1h-1zM1033 243h1v3h-1zM1248 243h2v1h-2zM491 244h1v1h-1zM618 244h2v1h-2zM750 244h1v1h-1zM1246 244h2v1h-2zM490 245h1v1h-1zM620 245h1v1h-1zM749 245h1v1h-1zM1244 245h2v1h-2zM489 246h1v1h-1zM621 246h1v1h-1zM748 246h1v1h-1zM1034 246h1v2h-1zM1241 246h3v1h-3zM488 247h1v1h-1zM622 247h1v1h-1zM747 247h1v2h-1zM1239 247h2v1h-2zM487 248h1v1h-1zM623 248h1v1h-1zM1035 248h1v3h-1zM1238 248h1v1h-1zM486 249h1v1h-1zM624 249h1v1h-1zM746 249h1v1h-1zM1237 249h1v1h-1zM485 250h1v1h-1zM625 250h1v1h-1zM745 250h1v1h-1zM1236 250h1v1h-1zM484 251h1v1h-1zM626 251h2v1h-2zM744 251h1v1h-1zM1036 251h1v2h-1zM1235 251h1v1h-1zM482 252h2v1h-2zM628 252h1v1h-1zM743 252h1v1h-1zM1234 252h1v1h-1zM481 253h1v1h-1zM629 253h1v1h-1zM742 253h1v1h-1zM1037 253h1v3h-1zM1233 253h1v1h-1zM480 254h1v1h-1zM630 254h1v1h-1zM741 254h1v1h-1zM1232 254h1v1h-1zM479 255h1v1h-1zM631 255h1v1h-1zM740 255h1v1h-1zM1231 255h1v1h-1zM478 256h1v1h-1zM632 256h2v1h-2zM739 256h1v2h-1zM1038 256h1v2h-1zM1230 256h1v1h-1zM477 257h1v2h-1zM634 257h1v1h-1zM1229 257h1v1h-1zM635 258h1v1h-1zM738 258h1v1h-1zM1039 258h1v2h-1zM1228 258h1v1h-1zM476 259h1v1h-1zM636 259h2v1h-2zM737 259h1v1h-1zM1227 259h1v1h-1zM475 260h1v1h-1zM638 260h1v1h-1zM736 260h1v1h-1zM1040 260h1v2h-1zM1226 260h1v1h-1zM474 261h1v1h-1zM639 261h1v1h-1zM735 261h1v1h-1zM1225 261h1v1h-1zM473 262h1v2h-1zM640 262h2v1h-2zM734 262h1v1h-1zM1041 262h1v2h-1zM1224 262h1v1h-1zM642 263h1v1h-1zM733 263h1v1h-1zM1223 263h1v1h-1zM472 264h1v1h-1zM643 264h1v1h-1zM732 264h1v1h-1zM1042 264h1v1h-1zM1222 264h1v1h-1zM471 265h1v1h-1zM644 265h2v1h-2zM731 265h1v1h-1zM1043 265h1v2h-1zM1220 265h2v1h-2zM470 266h1v2h-1zM646 266h1v1h-1zM730 266h1v1h-1zM1219 266h1v1h-1zM647 267h1v1h-1zM729 267h1v1h-1zM1044 267h1v1h-1zM1218 267h1v1h-1zM469 268h1v1h-1zM648 268h1v1h-1zM728 268h1v1h-1zM1045 268h1v2h-1zM1216 268h2v1h-2zM468 269h1v2h-1zM649 269h1v1h-1zM727 269h1v1h-1zM1215 269h1v1h-1zM650 270h2v1h-2zM725 270h2v1h-2zM1046 270h1v2h-1zM1214 270h1v1h-1zM467 271h1v1h-1zM652 271h1v1h-1zM724 271h1v1h-1zM1213 271h1v1h-1zM466 272h1v2h-1zM653 272h1v1h-1zM722 272h2v1h-2zM1047 272h1v1h-1zM1212 272h1v1h-1zM654 273h1v1h-1zM720 273h2v1h-2zM1048 273h1v1h-1zM1211 273h1v1h-1zM465 274h1v1h-1zM655 274h1v1h-1zM719 274h1v1h-1zM1049 274h1v2h-1zM1210 274h1v1h-1zM464 275h1v2h-1zM656 275h1v1h-1zM717 275h2v1h-2zM1209 275h1v1h-1zM657 276h1v1h-1zM716 276h1v1h-1zM1050 276h1v1h-1zM1208 276h1v1h-1zM463 277h1v1h-1zM658 277h2v1h-2zM714 277h2v1h-2zM1051 277h1v1h-1zM1207 277h1v1h-1zM462 278h1v2h-1zM660 278h1v1h-1zM712 278h2v1h-2zM1052 278h1v1h-1zM1206 278h1v1h-1zM661 279h1v1h-1zM710 279h2v1h-2zM1053 279h1v2h-1zM1205 279h1v2h-1zM461 280h1v1h-1zM662 280h1v1h-1zM708 280h2v1h-2zM460 281h1v2h-1zM663 281h1v1h-1zM705 281h3v1h-3zM1054 281h1v1h-1zM1204 281h1v1h-1zM664 282h2v1h-2zM702 282h3v1h-3zM1055 282h1v1h-1zM1203 282h1v1h-1zM459 283h1v1h-1zM666 283h1v1h-1zM700 283h2v1h-2zM1056 283h1v2h-1zM1202 283h1v1h-1zM458 284h1v2h-1zM667 284h1v1h-1zM697 284h3v1h-3zM1201 284h1v2h-1zM668 285h2v1h-2zM694 285h3v1h-3zM1057 285h1v1h-1zM457 286h1v1h-1zM670 286h1v1h-1zM690 286h4v1h-4zM1058 286h1v2h-1zM1200 286h1v1h-1zM456 287h1v2h-1zM671 287h5v1h-5zM684 287h6v1h-6zM1199 287h1v2h-1zM676 288h8v1h-8zM1059 288h1v1h-1zM455 289h1v1h-1zM1060 289h1v2h-1zM1198 289h1v2h-1zM454 290h1v2h-1zM1061 291h1v1h-1zM1197 291h1v2h-1zM453 292h1v1h-1zM1062 292h1v2h-1zM452 293h1v2h-1zM1196 293h1v2h-1zM1063 294h1v1h-1zM451 295h1v1h-1zM1064 295h1v2h-1zM1195 295h1v2h-1zM450 296h1v2h-1zM1065 297h1v2h-1zM1194 297h1v2h-1zM449 298h1v1h-1zM448 299h1v2h-1zM1066 299h1v1h-1zM1193 299h1v2h-1zM1067 300h1v2h-1zM447 301h1v1h-1zM1192 301h1v2h-1zM446 302h1v1h-1zM1068 302h1v1h-1zM445 303h1v1h-1zM1069 303h1v2h-1zM1191 303h1v2h-1zM444 304h1v1h-1zM443 305h1v2h-1zM1070 305h1v2h-1zM1190 305h1v2h-1zM442 307h1v1h-1zM1071 307h1v1h-1zM1189 307h1v2h-1zM441 308h1v1h-1zM1072 308h1v2h-1zM440 309h1v1h-1zM1188 309h1v2h-1zM439 310h1v1h-1zM1073 310h1v1h-1zM438 311h1v1h-1zM1074 311h1v2h-1zM1187 311h1v1h-1zM437 312h1v2h-1zM1186 312h1v2h-1zM1075 313h1v1h-1zM436 314h1v1h-1zM1076 314h1v2h-1zM1185 314h1v2h-1zM435 315h1v1h-1zM434 316h1v1h-1zM1077 316h1v1h-1zM1184 316h1v2h-1zM433 317h1v2h-1zM1078 317h1v2h-1zM1183 318h1v1h-1zM432 319h1v1h-1zM1079 319h1v1h-1zM1182 319h1v2h-1zM431 320h1v1h-1zM1080 320h1v2h-1zM430 321h1v1h-1zM1181 321h1v2h-1zM429 322h1v1h-1zM1081 322h1v1h-1zM428 323h1v1h-1zM1082 323h1v2h-1zM1180 323h1v2h-1zM426 324h2v1h-2zM425 325h1v1h-1zM1083 325h1v1h-1zM1179 325h1v1h-1zM424 326h1v1h-1zM1084 326h1v2h-1zM1178 326h1v2h-1zM423 327h1v1h-1zM422 328h1v1h-1zM1085 328h1v1h-1zM1177 328h1v2h-1zM421 329h1v1h-1zM1086 329h1v2h-1zM420 330h1v1h-1zM1176 330h1v2h-1zM419 331h1v1h-1zM1087 331h1v1h-1zM418 332h1v1h-1zM1088 332h1v2h-1zM1175 332h1v2h-1zM417 333h1v1h-1zM416 334h1v1h-1zM1089 334h1v1h-1zM1174 334h1v2h-1zM415 335h1v1h-1zM1090 335h1v2h-1zM413 336h2v1h-2zM1173 336h1v2h-1zM412 337h1v1h-1zM1091 337h1v1h-1zM410 338h2v1h-2zM1092 338h1v2h-1zM1172 338h1v2h-1zM408 339h2v1h-2zM407 340h1v1h-1zM1093 340h1v1h-1zM1171 340h1v2h-1zM405 341h2v1h-2zM1094 341h1v2h-1zM404 342h1v1h-1zM1170 342h1v2h-1zM402 343h2v1h-2zM1095 343h1v1h-1zM400 344h2v1h-2zM1096 344h1v2h-1zM1169 344h1v2h-1zM399 345h1v1h-1zM398 346h1v1h-1zM1097 346h1v2h-1zM1168 346h1v2h-1zM396 347h2v1h-2zM395 348h1v1h-1zM1098 348h1v2h-1zM1167 348h1v3h-1zM394 349h1v1h-1zM392 350h2v1h-2zM1099 350h1v2h-1zM391 351h1v1h-1zM1166 351h1v2h-1zM390 352h1v1h-1zM1100 352h1v2h-1zM388 353h2v1h-2zM1165 353h1v3h-1zM387 354h1v1h-1zM1101 354h1v2h-1zM386 355h1v1h-1zM384 356h2v1h-2zM1102 356h1v2h-1zM1164 356h1v2h-1zM383 357h1v1h-1zM382 358h1v1h-1zM1103 358h1v1h-1zM1163 358h1v3h-1zM380 359h2v1h-2zM1104 359h1v2h-1zM379 360h1v1h-1zM378 361h1v1h-1zM1105 361h1v2h-1zM1162 361h1v2h-1zM376 362h2v1h-2zM375 363h1v1h-1zM1106 363h1v2h-1zM1161 363h1v3h-1zM374 364h1v1h-1zM372 365h2v1h-2zM1107 365h1v1h-1zM371 366h1v1h-1zM1108 366h1v2h-1zM1160 366h1v2h-1zM370 367h1v1h-1zM368 368h2v1h-2zM1109 368h1v2h-1zM1159 368h1v2h-1zM367 369h1v1h-1zM365 370h2v1h-2zM1110 370h1v2h-1zM1158 370h1v1h-1zM364 371h1v1h-1zM1157 371h1v1h-1zM362 372h2v1h-2zM1111 372h2v1h-2zM1156 372h1v1h-1zM360 373h2v1h-2zM1113 373h2v1h-2zM1155 373h1v2h-1zM359 374h1v1h-1zM1115 374h2v1h-2zM358 375h1v1h-1zM1117 375h2v1h-2zM1154 375h1v1h-1zM356 376h2v1h-2zM1119 376h2v1h-2zM1153 376h1v1h-1zM355 377h1v1h-1zM1121 377h2v1h-2zM1152 377h1v1h-1zM354 378h1v1h-1zM1123 378h2v1h-2zM1151 378h1v1h-1zM352 379h2v1h-2zM1125 379h2v1h-2zM1149 379h2v1h-2zM350 380h2v1h-2zM1127 380h5v1h-5zM1148 380h1v1h-1zM348 381h2v1h-2zM1132 381h6v1h-6zM1146 381h2v1h-2zM345 382h3v1h-3zM1138 382h4v1h-4zM1144 382h2v1h-2zM342 383h3v1h-3zM1142 383h2v1h-2zM340 384h2v1h-2zM271 385h2v1h-2zM337 385h3v1h-3zM269 386h2v1h-2zM273 386h3v1h-3zM335 386h2v1h-2zM267 387h2v1h-2zM276 387h2v1h-2zM333 387h2v1h-2zM265 388h2v1h-2zM278 388h6v1h-6zM331 388h2v1h-2zM263 389h2v1h-2zM284 389h6v1h-6zM329 389h2v1h-2zM261 390h2v1h-2zM290 390h4v1h-4zM327 390h2v1h-2zM259 391h2v1h-2zM294 391h6v1h-6zM325 391h2v1h-2zM257 392h2v1h-2zM300 392h5v1h-5zM324 392h1v1h-1zM255 393h2v1h-2zM305 393h3v1h-3zM322 393h2v1h-2zM254 394h1v1h-1zM308 394h2v1h-2zM320 394h2v1h-2zM253 395h1v1h-1zM310 395h10v1h-10zM252 396h1v1h-1zM251 397h1v1h-1zM250 398h1v1h-1zM249 399h1v1h-1zM248 400h1v1h-1zM247 401h1v1h-1zM246 402h1v1h-1zM244 403h2v1h-2zM243 404h1v1h-1zM242 405h1v1h-1zM240 406h2v1h-2zM239 407h1v1h-1zM238 408h1v1h-1zM236 409h2v1h-2zM235 410h1v1h-1zM234 411h1v1h-1zM232 412h2v1h-2zM231 413h1v1h-1zM230 414h1v1h-1zM229 415h1v1h-1zM228 416h1v1h-1zM226 417h2v1h-2zM225 418h1v1h-1zM224 419h1v1h-1zM222 420h2v1h-2zM220 421h2v1h-2zM217 422h3v1h-3zM214 423h3v1h-3zM212 424h2v1h-2zM209 425h3v1h-3zM206 426h3v1h-3zM204 427h2v1h-2zM201 428h3v1h-3zM199 429h2v1h-2zM197 430h2v1h-2zM195 431h2v1h-2zM193 432h2v1h-2zM191 433h2v1h-2zM189 434h2v1h-2zM187 435h2v1h-2zM185 436h2v1h-2zM183 437h2v1h-2zM182 438h1v1h-1zM181 439h1v1h-1zM180 440h1v1h-1zM178 441h2v1h-2zM177 442h1v1h-1zM176 443h1v1h-1zM175 444h1v1h-1zM173 445h2v1h-2zM171 446h2v1h-2zM169 447h2v1h-2zM167 448h2v1h-2zM165 449h2v1h-2zM163 450h2v1h-2zM161 451h2v1h-2zM159 452h2v1h-2zM158 453h1v1h-1zM156 454h2v1h-2zM155 455h1v1h-1zM154 456h1v1h-1zM152 457h2v1h-2zM151 458h1v1h-1zM150 459h1v1h-1zM149 460h1v1h-1zM148 461h1v1h-1zM146 462h2v1h-2zM145 463h1v1h-1zM144 464h1v1h-1zM143 465h1v1h-1zM142 466h1v1h-1zM141 467h1v1h-1zM140 468h1v1h-1zM138 469h2v1h-2zM137 470h1v1h-1zM136 471h1v1h-1zM135 472h1v1h-1zM134 473h1v1h-1zM133 474h1v1h-1zM132 475h1v1h-1zM131 476h1v1h-1zM130 477h1v1h-1zM129 478h1v1h-1zM128 479h1v1h-1zM127 480h1v1h-1zM126 481h1v1h-1zM125 482h1v1h-1zM124 483h1v1h-1zM122 484h2v1h-2zM121 485h1v1h-1zM120 486h1v1h-1zM119 487h1v1h-1zM118 488h1v1h-1zM117 489h1v2h-1zM116 491h1v1h-1zM115 492h1v1h-1zM114 493h1v1h-1zM113 494h1v2h-1zM112 496h1v1h-1zM111 497h1v1h-1zM110 498h1v1h-1zM109 499h1v1h-1zM108 500h1v1h-1zM107 501h1v2h-1zM106 503h1v1h-1zM105 504h1v1h-1zM104 505h1v1h-1zM103 506h1v1h-1zM102 507h1v1h-1zM101 508h1v1h-1zM100 509h1v1h-1zM98 510h2v1h-2zM97 511h1v1h-1zM96 512h1v1h-1zM95 513h1v1h-1zM93 514h2v1h-2zM91 515h2v1h-2zM89 516h2v1h-2zM87 517h2v1h-2zM85 518h2v1h-2zM83 519h2v1h-2zM81 520h2v1h-2zM79 521h2v1h-2zM77 522h2v1h-2zM76 523h1v1h-1zM74 524h2v1h-2zM72 525h2v1h-2zM71 526h1v1h-1zM70 527h1v2h-1zM69 529h1v1h-1zM68 530h1v2h-1zM67 532h1v1h-1zM66 533h1v2h-1zM65 535h1v1h-1zM64 536h1v2h-1zM63 538h1v1h-1zM62 539h1v2h-1zM61 541h1v1h-1zM60 542h1v1h-1zM59 543h1v2h-1zM58 545h1v1h-1zM57 546h1v1h-1zM56 547h1v2h-1zM55 549h1v1h-1zM54 550h1v2h-1zM53 552h1v1h-1zM52 553h1v1h-1zM51 554h1v2h-1zM50 556h1v1h-1zM49 557h1v1h-1zM48 558h1v2h-1zM47 560h1v1h-1zM46 561h1v2h-1zM45 563h1v1h-1zM44 564h1v2h-1zM43 566h1v1h-1zM42 567h1v2h-1zM41 569h1v1h-1zM40 570h1v2h-1zM39 572h1v1h-1zM38 573h1v2h-1zM37 575h1v1h-1zM36 576h1v2h-1zM35 578h1v1h-1zM34 579h1v2h-1z" fill="#3cb371"/>
<path d="M924 143h6v1h-6zM919 144h5v1h-5zM930 144h4v1h-4zM917 145h2v1h-2zM934 145h18v1h-18zM915 146h2v1h-2zM951 146h1v3h-1zM913 147h2v1h-2zM910 148h3v1h-3zM908 149h2v1h-2zM952 149h1v6h-1zM905 150h3v1h-3zM902 151h3v1h-3zM900 152h2v1h-2zM897 153h3v1h-3zM894 154h3v1h-3zM890 155h4v1h-4zM953 155h1v6h-1zM887 156h3v1h-3zM886 157h1v1h-1zM885 158h1v1h-1zM884 159h1v1h-1zM883 160h1v2h-1zM954 161h1v6h-1zM882 162h1v1h-1zM881 163h1v1h-1zM880 164h1v1h-1zM879 165h1v1h-1zM878 166h1v1h-1zM877 167h1v2h-1zM955 167h1v7h-1zM876 169h1v1h-1zM875 170h1v1h-1zM874 171h1v1h-1zM873 172h1v2h-1zM872 174h1v1h-1zM956 174h1v6h-1zM871 175h1v1h-1zM870 176h1v2h-1zM869 178h1v2h-1zM868 180h1v2h-1zM957 180h1v6h-1zM867 182h1v2h-1zM866 184h1v2h-1zM865 186h1v2h-1zM958 186h1v6h-1zM864 188h1v2h-1zM863 190h1v2h-1zM862 192h1v2h-1zM959 192h1v5h-1zM861 194h1v2h-1zM860 196h1v2h-1zM960 197h1v4h-1zM859 198h1v1h-1zM858 199h1v2h-1zM857 201h1v2h-1zM961 201h1v3h-1zM856 203h1v2h-1zM962 204h1v3h-1zM855 205h1v1h-1zM854 206h1v1h-1zM853 207h1v2h-1zM963 207h1v4h-1zM852 209h1v1h-1zM851 210h1v1h-1zM850 211h1v1h-1zM964 211h1v3h-1zM849 212h1v2h-1zM848 214h1v1h-1zM965 214h1v3h-1zM847 215h1v1h-1zM846 216h1v1h-1zM845 217h1v2h-1zM966 217h1v4h-1zM844 219h1v1h-1zM843 220h1v1h-1zM842 221h1v1h-1zM967 221h1v4h-1zM841 222h1v2h-1zM840 224h1v1h-1zM839 225h1v2h-1zM968 225h1v4h-1zM838 227h1v2h-1zM837 229h1v2h-1zM969 229h1v5h-1zM836 231h1v2h-1zM835 233h1v3h-1zM970 234h1v4h-1zM834 236h1v2h-1zM833 238h1v2h-1zM971 238h1v5h-1zM832 240h1v2h-1zM831 242h1v3h-1zM972 243h1v4h-1zM830 245h1v2h-1zM829 247h1v2h-1zM973 247h1v5h-1zM828 249h1v2h-1zM827 251h1v2h-1zM974 252h1v4h-1zM826 253h1v2h-1zM825 255h1v2h-1zM975 256h1v4h-1zM824 257h1v2h-1zM823 259h1v3h-1zM976 260h1v2h-1zM822 262h1v3h-1zM977 262h1v2h-1zM978 264h1v3h-1zM821 265h1v2h-1zM820 267h1v3h-1zM979 267h1v2h-1zM980 269h1v3h-1zM819 270h1v3h-1zM981 272h1v2h-1zM818 273h1v3h-1zM1303 273h5v1h-5zM1316 273h4v1h-4zM982 274h1v2h-1zM1302 274h1v2h-1zM1308 274h8v1h-8zM817 276h1v2h-1zM983 276h1v3h-1zM1301 276h1v1h-1zM1300 277h1v2h-1zM816 278h1v3h-1zM984 279h1v2h-1zM1299 279h1v1h-1zM1298 280h1v2h-1zM815 281h1v3h-1zM985 281h1v3h-1zM1297 282h1v1h-1zM1296 283h1v2h-1zM814 284h1v2h-1zM986 284h1v3h-1zM1295 285h1v2h-1zM813 286h1v3h-1zM987 287h1v2h-1zM1294 287h1v2h-1zM812 289h1v2h-1zM988 289h1v3h-1zM1293 289h1v2h-1zM811 291h1v3h-1zM1292 291h1v3h-1zM989 292h1v3h-1zM810 294h1v2h-1zM1291 294h1v2h-1zM990 295h1v2h-1zM543 296h5v1h-5zM809 296h1v3h-1zM1290 296h1v3h-1zM542 297h1v1h-1zM548 297h8v1h-8zM564 297h4v1h-4zM991 297h1v4h-1zM541 298h1v1h-1zM556 298h8v1h-8zM568 298h1v2h-1zM540 299h1v1h-1zM808 299h1v2h-1zM1289 299h1v2h-1zM539 300h1v2h-1zM569 300h1v2h-1zM807 301h1v2h-1zM992 301h1v4h-1zM1288 301h1v2h-1zM538 302h1v1h-1zM570 302h1v2h-1zM537 303h1v1h-1zM806 303h1v2h-1zM1287 303h1v3h-1zM536 304h1v1h-1zM571 304h1v1h-1zM535 305h1v1h-1zM572 305h1v2h-1zM805 305h1v2h-1zM993 305h1v4h-1zM534 306h1v2h-1zM1286 306h1v2h-1zM573 307h1v2h-1zM804 307h1v2h-1zM533 308h1v2h-1zM1285 308h1v3h-1zM574 309h1v2h-1zM803 309h1v2h-1zM994 309h1v4h-1zM532 310h1v2h-1zM575 311h1v2h-1zM802 311h1v2h-1zM1284 311h1v2h-1zM531 312h1v1h-1zM530 313h1v2h-1zM576 313h1v2h-1zM801 313h1v2h-1zM995 313h1v4h-1zM1283 313h1v3h-1zM529 315h1v2h-1zM577 315h1v2h-1zM800 315h1v2h-1zM1282 316h1v2h-1zM528 317h1v2h-1zM578 317h1v2h-1zM799 317h1v2h-1zM996 317h1v4h-1zM1281 318h1v3h-1zM527 319h1v2h-1zM579 319h1v2h-1zM798 319h1v1h-1zM797 320h1v2h-1zM526 321h1v2h-1zM580 321h1v2h-1zM997 321h1v4h-1zM1280 321h1v2h-1zM796 322h1v1h-1zM525 323h1v3h-1zM581 323h1v2h-1zM795 323h1v1h-1zM1279 323h1v3h-1zM794 324h1v1h-1zM582 325h1v2h-1zM793 325h1v2h-1zM998 325h1v4h-1zM524 326h1v2h-1zM1278 326h1v2h-1zM583 327h1v1h-1zM792 327h1v1h-1zM523 328h1v3h-1zM584 328h1v2h-1zM791 328h1v1h-1zM1277 328h1v3h-1zM790 329h1v2h-1zM999 329h1v7h-1zM585 330h1v2h-1zM522 331h1v2h-1zM789 331h1v2h-1zM1276 331h1v3h-1zM586 332h1v1h-1zM521 333h1v3h-1zM587 333h1v2h-1zM788 333h1v2h-1zM1275 334h1v2h-1zM588 335h1v1h-1zM787 335h1v2h-1zM520 336h1v2h-1zM589 336h1v2h-1zM1000 336h1v12h-1zM1274 336h1v3h-1zM786 337h1v2h-1zM519 338h1v2h-1zM590 338h1v2h-1zM785 339h1v2h-1zM1273 339h1v3h-1zM518 340h1v2h-1zM591 340h1v1h-1zM592 341h1v2h-1zM784 341h1v2h-1zM517 342h1v1h-1zM1272 342h1v2h-1zM516 343h1v2h-1zM593 343h1v2h-1zM676 343h5v1h-5zM783 343h1v1h-1zM671 344h5v1h-5zM681 344h3v1h-3zM782 344h1v1h-1zM1271 344h1v3h-1zM515 345h1v1h-1zM594 345h1v1h-1zM671 345h1v1h-1zM684 345h2v1h-2zM780 345h2v1h-2zM514 346h1v2h-1zM595 346h1v2h-1zM670 346h1v3h-1zM686 346h2v1h-2zM779 346h1v1h-1zM688 347h2v1h-2zM778 347h1v1h-1zM1270 347h1v3h-1zM513 348h1v1h-1zM596 348h1v1h-1zM690 348h1v1h-1zM776 348h2v1h-2zM1001 348h1v11h-1zM512 349h1v2h-1zM597 349h1v2h-1zM669 349h1v3h-1zM691 349h1v1h-1zM775 349h1v1h-1zM692 350h2v1h-2zM774 350h1v2h-1zM1269 350h1v3h-1zM511 351h1v1h-1zM598 351h1v2h-1zM694 351h1v1h-1zM510 352h1v1h-1zM668 352h1v3h-1zM695 352h1v1h-1zM773 352h1v1h-1zM509 353h1v2h-1zM599 353h1v1h-1zM696 353h2v1h-2zM772 353h1v2h-1zM1268 353h1v3h-1zM600 354h2v1h-2zM698 354h2v1h-2zM508 355h1v1h-1zM602 355h1v1h-1zM667 355h1v3h-1zM700 355h1v1h-1zM771 355h1v1h-1zM507 356h1v1h-1zM603 356h1v1h-1zM701 356h2v1h-2zM770 356h1v2h-1zM1267 356h1v4h-1zM506 357h1v1h-1zM604 357h2v1h-2zM703 357h2v1h-2zM505 358h1v2h-1zM606 358h1v1h-1zM666 358h1v3h-1zM705 358h3v1h-3zM769 358h1v1h-1zM607 359h1v1h-1zM708 359h2v1h-2zM768 359h1v2h-1zM1002 359h1v11h-1zM504 360h1v1h-1zM608 360h1v2h-1zM710 360h2v1h-2zM1266 360h1v3h-1zM503 361h1v1h-1zM665 361h1v3h-1zM712 361h2v1h-2zM766 361h2v1h-2zM502 362h1v1h-1zM609 362h1v1h-1zM714 362h1v1h-1zM762 362h4v1h-4zM501 363h1v2h-1zM610 363h1v1h-1zM715 363h1v1h-1zM759 363h3v1h-3zM1265 363h1v3h-1zM611 364h1v2h-1zM664 364h1v3h-1zM716 364h2v1h-2zM758 364h1v1h-1zM500 365h1v1h-1zM718 365h1v1h-1zM757 365h1v1h-1zM499 366h1v1h-1zM612 366h1v1h-1zM719 366h1v1h-1zM756 366h1v1h-1zM1264 366h1v3h-1zM498 367h1v1h-1zM613 367h1v1h-1zM663 367h1v2h-1zM720 367h2v1h-2zM754 367h2v1h-2zM497 368h1v2h-1zM614 368h1v2h-1zM722 368h2v1h-2zM753 368h1v1h-1zM662 369h1v1h-1zM724 369h1v1h-1zM752 369h1v1h-1zM1263 369h1v3h-1zM496 370h1v1h-1zM615 370h3v1h-3zM661 370h1v2h-1zM725 370h2v1h-2zM751 370h1v1h-1zM1003 370h1v12h-1zM495 371h1v1h-1zM618 371h4v1h-4zM727 371h2v1h-2zM749 371h2v1h-2zM493 372h2v1h-2zM622 372h2v1h-2zM660 372h1v1h-1zM729 372h3v1h-3zM747 372h2v1h-2zM1262 372h1v3h-1zM492 373h1v1h-1zM624 373h1v1h-1zM659 373h1v1h-1zM732 373h2v1h-2zM745 373h2v1h-2zM490 374h2v1h-2zM625 374h1v1h-1zM658 374h1v1h-1zM734 374h11v1h-11zM488 375h2v1h-2zM626 375h1v1h-1zM657 375h1v2h-1zM1261 375h1v3h-1zM487 376h1v1h-1zM627 376h1v1h-1zM486 377h1v1h-1zM628 377h1v1h-1zM656 377h1v1h-1zM484 378h2v1h-2zM629 378h1v1h-1zM655 378h1v1h-1zM1260 378h1v3h-1zM483 379h1v1h-1zM630 379h1v1h-1zM653 379h2v1h-2zM482 380h1v1h-1zM631 380h5v1h-5zM651 380h2v1h-2zM480 381h2v1h-2zM636 381h8v1h-8zM649 381h2v1h-2zM1259 381h1v4h-1zM479 382h1v1h-1zM644 382h5v1h-5zM1004 382h1v11h-1zM478 383h1v2h-1zM477 385h1v1h-1zM1258 385h1v3h-1zM476 386h1v2h-1zM475 388h1v1h-1zM1257 388h1v3h-1zM474 389h1v2h-1zM473 391h1v1h-1zM1256 391h1v3h-1zM472 392h1v2h-1zM1005 393h1v11h-1zM471 394h1v2h-1zM1255 394h1v2h-1zM470 396h1v3h-1zM1254 396h1v1h-1zM1253 397h1v1h-1zM1252 398h1v1h-1zM469 399h1v4h-1zM1251 399h1v1h-1zM1250 400h1v1h-1zM1249 401h1v1h-1zM1248 402h1v1h-1zM468 403h1v3h-1zM1247 403h1v1h-1zM1006 404h1v12h-1zM1246 404h1v1h-1zM1245 405h1v1h-1zM467 406h1v3h-1zM1244 406h1v1h-1zM1242 407h2v1h-2zM1241 408h1v1h-1zM466 409h1v3h-1zM1240 409h1v1h-1zM1239 410h1v1h-1zM1238 411h1v2h-1zM465 412h1v4h-1zM1237 413h1v2h-1zM1236 415h1v2h-1zM464 416h1v3h-1zM1007 416h1v9h-1zM1235 417h1v2h-1zM463 419h1v2h-1zM1234 419h1v2h-1zM462 421h1v1h-1zM1233 421h1v2h-1zM461 422h1v1h-1zM460 423h1v1h-1zM1232 423h1v2h-1zM383 424h1v1h-1zM459 424h1v1h-1zM382 425h1v2h-1zM384 425h2v1h-2zM458 425h1v1h-1zM1008 425h1v6h-1zM1231 425h1v2h-1zM386 426h1v1h-1zM457 426h1v1h-1zM381 427h1v2h-1zM387 427h1v1h-1zM456 427h1v1h-1zM1230 427h1v2h-1zM388 428h2v1h-2zM406 428h3v1h-3zM455 428h1v1h-1zM380 429h1v1h-1zM390 429h1v1h-1zM404 429h2v1h-2zM409 429h2v1h-2zM454 429h1v1h-1zM1229 429h1v2h-1zM379 430h1v2h-1zM391 430h5v1h-5zM401 430h3v1h-3zM411 430h2v1h-2zM453 430h1v1h-1zM396 431h5v1h-5zM413 431h2v1h-2zM452 431h1v1h-1zM1009 431h1v7h-1zM1228 431h1v2h-1zM378 432h1v1h-1zM415 432h1v1h-1zM450 432h2v1h-2zM377 433h1v2h-1zM416 433h1v1h-1zM449 433h1v1h-1zM1227 433h1v2h-1zM417 434h1v1h-1zM448 434h1v1h-1zM376 435h1v2h-1zM418 435h2v1h-2zM447 435h1v1h-1zM1226 435h1v2h-1zM420 436h1v1h-1zM445 436h2v1h-2zM375 437h1v1h-1zM421 437h1v1h-1zM443 437h2v1h-2zM1225 437h1v2h-1zM374 438h1v2h-1zM422 438h1v1h-1zM441 438h2v1h-2zM1010 438h1v7h-1zM423 439h1v1h-1zM439 439h2v1h-2zM1224 439h1v2h-1zM373 440h1v1h-1zM424 440h2v1h-2zM437 440h2v1h-2zM372 441h1v2h-1zM426 441h2v1h-2zM436 441h1v1h-1zM1223 441h1v2h-1zM428 442h1v1h-1zM434 442h2v1h-2zM371 443h1v1h-1zM429 443h2v1h-2zM432 443h2v1h-2zM1222 443h1v1h-1zM370 444h1v2h-1zM431 444h1v1h-1zM1221 444h1v1h-1zM1011 445h1v6h-1zM1220 445h1v1h-1zM369 446h1v1h-1zM1219 446h1v1h-1zM368 447h1v2h-1zM1218 447h1v1h-1zM1217 448h1v1h-1zM367 449h1v1h-1zM1216 449h1v1h-1zM276 450h24v1h-24zM366 450h1v2h-1zM1215 450h1v1h-1zM270 451h6v1h-6zM300 451h5v1h-5zM1012 451h1v7h-1zM1214 451h1v1h-1zM266 452h4v1h-4zM305 452h2v1h-2zM365 452h1v1h-1zM1213 452h1v1h-1zM263 453h3v1h-3zM307 453h2v1h-2zM364 453h1v1h-1zM1212 453h1v1h-1zM261 454h2v1h-2zM309 454h2v1h-2zM363 454h1v2h-1zM1210 454h2v1h-2zM259 455h2v1h-2zM311 455h10v1h-10zM1209 455h1v1h-1zM257 456h2v1h-2zM321 456h2v1h-2zM362 456h1v1h-1zM1208 456h1v1h-1zM255 457h2v1h-2zM323 457h2v1h-2zM361 457h1v1h-1zM1207 457h1v1h-1zM255 458h1v1h-1zM325 458h2v1h-2zM360 458h1v2h-1zM1013 458h1v7h-1zM1206 458h1v1h-1zM254 459h1v3h-1zM327 459h2v1h-2zM1205 459h1v1h-1zM329 460h3v1h-3zM359 460h1v1h-1zM1204 460h1v1h-1zM332 461h2v1h-2zM357 461h2v1h-2zM1203 461h1v2h-1zM253 462h1v3h-1zM334 462h6v1h-6zM355 462h2v1h-2zM340 463h8v1h-8zM353 463h2v1h-2zM1202 463h1v1h-1zM348 464h5v1h-5zM1201 464h1v1h-1zM252 465h1v3h-1zM1014 465h1v6h-1zM1200 465h1v1h-1zM1199 466h1v3h-1zM251 468h1v3h-1zM1198 469h1v4h-1zM250 471h1v3h-1zM1015 471h1v6h-1zM1197 473h1v4h-1zM249 474h1v3h-1zM248 477h1v3h-1zM1016 477h1v4h-1zM1196 477h1v5h-1zM247 480h1v3h-1zM1017 481h1v4h-1zM1195 482h1v4h-1zM246 483h1v2h-1zM245 485h1v2h-1zM1018 485h1v4h-1zM1194 486h1v5h-1zM244 487h1v2h-1zM243 489h1v3h-1zM1019 489h1v5h-1zM1193 491h1v4h-1zM242 492h1v2h-1zM241 494h1v2h-1zM1020 494h1v4h-1zM1192 495h1v4h-1zM240 496h1v2h-1zM239 498h1v2h-1zM1021 498h1v4h-1zM1191 499h1v3h-1zM238 500h1v2h-1zM237 502h1v2h-1zM1022 502h1v4h-1zM1190 502h1v2h-1zM236 504h1v2h-1zM1189 504h1v2h-1zM235 506h1v1h-1zM1023 506h1v4h-1zM1188 506h1v2h-1zM234 507h1v2h-1zM1187 508h1v2h-1zM233 509h1v2h-1zM1024 510h1v4h-1zM1186 510h1v2h-1zM232 511h1v2h-1zM1185 512h1v2h-1zM231 513h1v1h-1zM230 514h1v2h-1zM1025 514h1v4h-1zM1184 514h1v2h-1zM229 516h1v2h-1zM1183 516h1v1h-1zM1182 517h1v2h-1zM228 518h1v2h-1zM1026 518h1v4h-1zM1181 519h1v1h-1zM227 520h1v1h-1zM1180 520h1v1h-1zM226 521h1v2h-1zM1179 521h1v2h-1zM1027 522h1v4h-1zM225 523h1v2h-1zM1178 523h1v1h-1zM1177 524h1v1h-1zM224 525h1v2h-1zM1176 525h1v2h-1zM1028 526h1v4h-1zM223 527h1v1h-1zM1143 527h1v1h-1zM1175 527h1v1h-1zM222 528h1v1h-1zM1141 528h2v1h-2zM1144 528h1v2h-1zM1174 528h1v2h-1zM221 529h1v1h-1zM1139 529h2v1h-2zM220 530h1v1h-1zM1029 530h1v4h-1zM1137 530h2v1h-2zM1145 530h1v2h-1zM1173 530h1v1h-1zM219 531h1v1h-1zM1132 531h5v1h-5zM1172 531h1v2h-1zM218 532h1v1h-1zM1127 532h5v1h-5zM1146 532h1v2h-1zM217 533h1v1h-1zM1125 533h2v1h-2zM1171 533h1v1h-1zM216 534h1v1h-1zM1030 534h1v4h-1zM1123 534h2v1h-2zM1147 534h1v2h-1zM1170 534h1v2h-1zM215 535h1v1h-1zM1121 535h2v1h-2zM214 536h1v1h-1zM1118 536h3v1h-3zM1148 536h1v2h-1zM1169 536h1v1h-1zM213 537h1v1h-1zM1114 537h4v1h-4zM1168 537h1v2h-1zM212 538h1v1h-1zM1031 538h1v4h-1zM1111 538h3v1h-3zM1149 538h1v2h-1zM211 539h1v1h-1zM1111 539h1v1h-1zM1167 539h1v2h-1zM210 540h1v1h-1zM1110 540h1v3h-1zM1150 540h1v2h-1zM209 541h1v1h-1zM1166 541h1v2h-1zM208 542h1v1h-1zM1032 542h1v4h-1zM1151 542h1v2h-1zM207 543h1v1h-1zM1109 543h1v3h-1zM1165 543h1v2h-1zM206 544h1v1h-1zM1152 544h1v2h-1zM205 545h1v1h-1zM1164 545h1v3h-1zM204 546h1v1h-1zM1033 546h1v5h-1zM1108 546h1v3h-1zM1153 546h1v2h-1zM203 547h1v2h-1zM1154 548h1v2h-1zM1163 548h1v2h-1zM202 549h1v1h-1zM1107 549h1v3h-1zM201 550h1v1h-1zM1155 550h1v2h-1zM1162 550h1v3h-1zM200 551h1v1h-1zM1034 551h1v4h-1zM199 552h1v1h-1zM1106 552h1v3h-1zM1156 552h1v2h-1zM198 553h1v1h-1zM1161 553h1v2h-1zM197 554h1v1h-1zM1157 554h1v2h-1zM196 555h1v1h-1zM1035 555h1v5h-1zM1105 555h1v3h-1zM1160 555h1v2h-1zM195 556h1v1h-1zM1158 556h1v2h-1zM194 557h1v1h-1zM1159 557h1v2h-1zM110 558h2v1h-2zM193 558h1v1h-1zM1104 558h1v3h-1zM106 559h4v1h-4zM111 559h1v1h-1zM192 559h1v1h-1zM103 560h3v1h-3zM112 560h1v2h-1zM190 560h2v1h-2zM1036 560h1v4h-1zM101 561h2v1h-2zM188 561h2v1h-2zM1103 561h1v2h-1zM100 562h1v1h-1zM113 562h1v2h-1zM185 562h3v1h-3zM98 563h2v1h-2zM183 563h2v1h-2zM1102 563h1v2h-1zM96 564h2v1h-2zM114 564h1v2h-1zM182 564h1v1h-1zM1037 564h1v5h-1zM95 565h1v1h-1zM181 565h1v1h-1zM1101 565h1v2h-1zM94 566h1v2h-1zM115 566h1v2h-1zM180 566h1v1h-1zM179 567h1v1h-1zM1100 567h1v2h-1zM93 568h1v2h-1zM116 568h1v2h-1zM178 568h1v1h-1zM177 569h1v1h-1zM1038 569h1v4h-1zM1099 569h1v2h-1zM92 570h1v1h-1zM117 570h1v2h-1zM176 570h1v1h-1zM91 571h1v2h-1zM175 571h1v1h-1zM1098 571h1v2h-1zM118 572h1v2h-1zM173 572h2v1h-2zM90 573h1v1h-1zM171 573h2v1h-2zM1039 573h1v3h-1zM1097 573h1v2h-1zM89 574h1v2h-1zM119 574h2v1h-2zM169 574h2v1h-2zM121 575h2v1h-2zM167 575h2v1h-2zM1096 575h1v2h-1zM88 576h1v2h-1zM123 576h2v1h-2zM165 576h2v1h-2zM1040 576h1v1h-1zM125 577h2v1h-2zM164 577h1v1h-1zM1041 577h1v2h-1zM1095 577h1v2h-1zM87 578h1v1h-1zM127 578h1v1h-1zM162 578h2v1h-2zM128 579h2v1h-2zM160 579h2v1h-2zM1042 579h1v1h-1zM1094 579h1v2h-1zM130 580h1v1h-1zM151 580h9v1h-9zM1043 580h1v1h-1z" fill="#3cb371"/>
<rect x="-1" y="480" width="1" height="21" fill="#000"/>
<rect x="-3" y="487" width="5" height="7" fill="#000"/>
<rect x="-2" y="488" width="3" height="5" fill="#fff"/>
<rect x="7" y="485" width="1" height="25" fill="#000"/>
<rect x="5" y="487" width="5" height="8" fill="#000"/>
<rect x="15" y="476" width="1" height="29" fill="#000"/>
<rect x="13" y="490" width="5" height="5" fill="#000"/>
<rect x="14" y="491" width="3" height="3" fill="#fff"/>
<rect x="23" y="463" width="1" height="64" fill="#000"/>
<rect x="21" y="491" width="5" height="21" fill="#000"/>
<rect x="31" y="467" width="1" height="51" fill="#000"/>
<rect x="29" y="471" width="5" height="38" fill="#000"/>
<rect x="30" y="472" width="3" height="36" fill="#fff"/>
<rect x="39" y="469" width="1" height="43" fill="#000"/>
<rect x="37" y="472" width="5" height="30" fill="#000"/>
<rect x="47" y="498" width="1" height="26" fill="#000"/>
<rect x="45" y="502" width="5" height="10" fill="#000"/>
<rect x="55" y="498" width="1" height="19" fill="#000"/>
<rect x="53" y="506" width="5" height="6" fill="#000"/>
<rect x="54" y="507" width="3" height="4" fill="#fff"/>
<rect x="63" y="483" width="1" height="39" fill="#000"/>
<rect x="61" y="500" width="5" height="7" fill="#000"/>
<rect x="62" y="501" width="3" height="5" fill="#fff"/>
<rect x="71" y="477" width="1" height="51" fill="#000"/>
<rect x="69" y="501" width="5" height="10" fill="#000"/>
<rect x="79" y="479" width="1" height="72" fill="#000"/>
<rect x="77" y="505" width="5" height="5" fill="#000"/>
<rect x="78" y="506" width="3" height="3" fill="#fff"/>
<rect x="87" y="487" width="1" height="28" fill="#000"/>
<rect x="85" y="506" width="5" height="1" fill="#000"/>
<rect x="95" y="497" width="1" height="27" fill="#000"/>
<rect x="93" y="506" width="5" height="9" fill="#000"/>
<rect x="103" y="403" width="1" height="113" fill="#000"/>
<rect x="101" y="428" width="5" height="86" fill="#000"/>
<rect x="102" y="429" width="3" height="84" fill="#fff"/>
<rect x="111" y="406" width="1" height="29" fill="#000"/>
<rect x="109" y="420" width="5" height="9" fill="#000"/>
<rect x="110" y="421" width="3" height="7" fill="#fff"/>
<rect x="119" y="328" width="1" height="101" fill="#000"/>
<rect x="117" y="336" width="5" height="86" fill="#000"/>
<rect x="118" y="337" width="3" height="84" fill="#fff"/>
<rect x="127" y="322" width="1" height="69" fill="#000"/>
<rect x="125" y="337" width="5" height="32" fill="#000"/>
<rect x="135" y="351" width="1" height="54" fill="#000"/>
<rect x="133" y="354" width="5" height="14" fill="#000"/>
<rect x="134" y="355" width="3" height="12" fill="#fff"/>
<rect x="143" y="336" width="1" height="62" fill="#000"/>
<rect x="141" y="354" width="5" height="28" fill="#000"/>
<rect x="151" y="370" width="1" height="32" fill="#000"/>
<rect x="149" y="376" width="5" height="7" fill="#000"/>
<rect x="150" y="377" width="3" height="5" fill="#fff"/>
<rect x="159" y="358" width="1" height="25" fill="#000"/>
<rect x="157" y="365" width="5" height="12" fill="#000"/>
<rect x="158" y="366" width="3" height="10" fill="#fff"/>
<rect x="167" y="341" width="1" height="94" fill="#000"/>
<rect x="165" y="365" width="5" height="42" fill="#000"/>
<rect x="175" y="393" width="1" height="41" fill="#000"/>
<rect x="173" y="406" width="5" height="2" fill="#000"/>
<rect x="183" y="374" width="1" height="36" fill="#000"/>
<rect x="181" y="384" width="5" height="23" fill="#000"/>
<rect x="182" y="385" width="3" height="21" fill="#fff"/>
<rect x="191" y="374" width="1" height="14" fill="#000"/>
<rect x="189" y="384" width="5" height="4" fill="#000"/>
<rect x="199" y="386" width="1" height="45" fill="#000"/>
<rect x="197" y="389" width="5" height="38" fill="#000"/>
<rect x="207" y="423" width="1" height="38" fill="#000"/>
<rect x="205" y="426" width="5" height="21" fill="#000"/>
<rect x="215" y="422" width="1" height="37" fill="#000"/>
<rect x="213" y="445" width="5" height="1" fill="#000"/>
<rect x="223" y="423" width="1" height="53" fill="#000"/>
<rect x="221" y="443" width="5" height="3" fill="#000"/>
<rect x="222" y="444" width="3" height="1" fill="#fff"/>
<rect x="231" y="358" width="1" height="95" fill="#000"/>
<rect x="229" y="371" width="5" height="74" fill="#000"/>
<rect x="230" y="372" width="3" height="72" fill="#fff"/>
<rect x="239" y="362" width="1" height="26" fill="#000"/>
<rect x="237" y="372" width="5" height="10" fill="#000"/>
<rect x="247" y="373" width="1" height="23" fill="#000"/>
<rect x="245" y="380" width="5" height="10" fill="#000"/>
<rect x="255" y="334" width="1" height="58" fill="#000"/>
<rect x="253" y="348" width="5" height="43" fill="#000"/>
<rect x="254" y="349" width="3" height="41" fill="#fff"/>
<rect x="263" y="345" width="1" height="35" fill="#000"/>
<rect x="261" y="349" width="5" height="11" fill="#000"/>
<rect x="271" y="327" width="1" height="54" fill="#000"/>
<rect x="269" y="342" width="5" height="19" fill="#000"/>
<rect x="270" y="343" width="3" height="17" fill="#fff"/>
<rect x="279" y="325" width="1" height="80" fill="#000"/>
<rect x="277" y="341" width="5" height="53" fill="#000"/>
<rect x="287" y="364" width="1" height="31" fill="#000"/>
<rect x="285" y="380" width="5" height="13" fill="#000"/>
<rect x="286" y="381" width="3" height="11" fill="#fff"/>
<rect x="295" y="378" width="1" height="31" fill="#000"/>
<rect x="293" y="381" width="5" height="23" fill="#000"/>
<rect x="303" y="390" width="1" height="23" fill="#000"/>
<rect x="301" y="391" width="5" height="14" fill="#000"/>
<rect x="302" y="392" width="3" height="12" fill="#fff"/>
<rect x="311" y="383" width="1" height="64" fill="#000"/>
<rect x="309" y="392" width="5" height="39" fill="#000"/>
<rect x="319" y="358" width="1" height="81" fill="#000"/>
<rect x="317" y="365" width="5" height="65" fill="#000"/>
<rect x="318" y="366" width="3" height="63" fill="#fff"/>
<rect x="327" y="306" width="1" height="75" fill="#000"/>
<rect x="325" y="319" width="5" height="46" fill="#000"/>
<rect x="326" y="320" width="3" height="44" fill="#fff"/>
<rect x="335" y="302" width="1" height="28" fill="#000"/>
<rect x="333" y="313" width="5" height="6" fill="#000"/>
<rect x="334" y="314" width="3" height="4" fill="#fff"/>
<rect x="343" y="282" width="1" height="57" fill="#000"/>
<rect x="341" y="315" width="5" height="12" fill="#000"/>
<rect x="351" y="307" width="1" height="39" fill="#000"/>
<rect x="349" y="324" width="5" height="3" fill="#000"/>
<rect x="350" y="325" width="3" height="1" fill="#fff"/>
<rect x="359" y="302" width="1" height="45" fill="#000"/>
<rect x="357" y="321" width="5" height="4" fill="#000"/>
<rect x="358" y="322" width="3" height="2" fill="#fff"/>
<rect x="367" y="310" width="1" height="35" fill="#000"/>
<rect x="365" y="322" width="5" height="21" fill="#000"/>
<rect x="375" y="319" width="1" height="61" fill="#000"/>
<rect x="373" y="326" width="5" height="18" fill="#000"/>
<rect x="374" y="327" width="3" height="16" fill="#fff"/>
<rect x="383" y="306" width="1" height="29" fill="#000"/>
<rect x="381" y="308" width="5" height="20" fill="#000"/>
<rect x="382" y="309" width="3" height="18" fill="#fff"/>
<rect x="391" y="246" width="1" height="70" fill="#000"/>
<rect x="389" y="260" width="5" height="49" fill="#000"/>
<rect x="390" y="261" width="3" height="47" fill="#fff"/>
<rect x="399" y="254" width="1" height="16" fill="#000"/>
<rect x="397" y="261" width="5" height="8" fill="#000"/>
<rect x="407" y="260" width="1" height="27" fill="#000"/>
<rect x="405" y="268" width="5" height="11" fill="#000"/>
<rect x="415" y="241" width="1" height="40" fill="#000"/>
<rect x="413" y="245" width="5" height="33" fill="#000"/>
<rect x="414" y="246" width="3" height="31" fill="#fff"/>
<rect x="423" y="202" width="1" height="44" fill="#000"/>
<rect x="421" y="204" width="5" height="42" fill="#000"/>
<rect x="422" y="205" width="3" height="40" fill="#fff"/>
<rect x="431" y="187" width="1" height="32" fill="#000"/>
<rect x="429" y="198" width="5" height="6" fill="#000"/>
<rect x="430" y="199" width="3" height="4" fill="#fff"/>
<rect x="439" y="193" width="1" height="20" fill="#000"/>
<rect x="437" y="193" width="5" height="16" fill="#000"/>
<rect x="447" y="190" width="1" height="23" fill="#000"/>
<rect x="445" y="196" width="5" height="13" fill="#000"/>
<rect x="446" y="197" width="3" height="11" fill="#fff"/>
<rect x="455" y="136" width="1" height="67" fill="#000"/>
<rect x="453" y="156" width="5" height="42" fill="#000"/>
<rect x="454" y="157" width="3" height="40" fill="#fff"/>
<rect x="463" y="146" width="1" height="22" fill="#000"/>
<rect x="461" y="155" width="5" height="3" fill="#000"/>
<rect x="462" y="156" width="3" height="1" fill="#fff"/>
<rect x="471" y="143" width="1" height="66" fill="#000"/>
<rect x="469" y="156" width="5" height="33" fill="#000"/>
<rect x="479" y="164" width="1" height="36" fill="#000"/>
<rect x="477" y="170" width="5" height="19" fill="#000"/>
<rect x="478" y="171" width="3" height="17" fill="#fff"/>
<rect x="487" y="160" width="1" height="23" fill="#000"/>
<rect x="485" y="169" width="5" height="6" fill="#000"/>
<rect x="495" y="145" width="1" height="49" fill="#000"/>
<rect x="493" y="159" width="5" height="15" fill="#000"/>
<rect x="494" y="160" width="3" height="13" fill="#fff"/>
<rect x="503" y="136" width="1" height="25" fill="#000"/>
<rect x="501" y="147" width="5" height="12" fill="#000"/>
<rect x="502" y="148" width="3" height="10" fill="#fff"/>
<rect x="511" y="95" width="1" height="54" fill="#000"/>
<rect x="509" y="138" width="5" height="10" fill="#000"/>
<rect x="510" y="139" width="3" height="8" fill="#fff"/>
<rect x="519" y="135" width="1" height="109" fill="#000"/>
<rect x="517" y="139" width="5" height="98" fill="#000"/>
<rect x="527" y="183" width="1" height="68" fill="#000"/>
<rect x="525" y="226" width="5" height="11" fill="#000"/>
<rect x="526" y="227" width="3" height="9" fill="#fff"/>
<rect x="535" y="212" width="1" height="56" fill="#000"/>
<rect x="533" y="226" width="5" height="38" fill="#000"/>
<rect x="543" y="240" width="1" height="39" fill="#000"/>
<rect x="541" y="258" width="5" height="7" fill="#000"/>
<rect x="551" y="243" width="1" height="33" fill="#000"/>
<rect x="549" y="264" width="5" height="5" fill="#000"/>
<rect x="559" y="265" width="1" height="43" fill="#000"/>
<rect x="557" y="269" width="5" height="7" fill="#000"/>
<rect x="567" y="250" width="1" height="41" fill="#000"/>
<rect x="565" y="272" width="5" height="4" fill="#000"/>
<rect x="566" y="273" width="3" height="2" fill="#fff"/>
<rect x="575" y="261" width="1" height="115" fill="#000"/>
<rect x="573" y="271" width="5" height="42" fill="#000"/>
<rect x="583" y="282" width="1" height="80" fill="#000"/>
<rect x="581" y="312" width="5" height="7" fill="#000"/>
<rect x="591" y="290" width="1" height="81" fill="#000"/>
<rect x="589" y="314" width="5" height="4" fill="#000"/>
<rect x="590" y="315" width="3" height="2" fill="#fff"/>
<rect x="599" y="289" width="1" height="39" fill="#000"/>
<rect x="597" y="315" width="5" height="5" fill="#000"/>
<rect x="607" y="267" width="1" height="73" fill="#000"/>
<rect x="605" y="289" width="5" height="30" fill="#000"/>
<rect x="606" y="290" width="3" height="28" fill="#fff"/>
<rect x="615" y="259" width="1" height="95" fill="#000"/>
<rect x="613" y="289" width="5" height="42" fill="#000"/>
<rect x="623" y="286" width="1" height="59" fill="#000"/>
<rect x="621" y="295" width="5" height="35" fill="#000"/>
<rect x="622" y="296" width="3" height="33" fill="#fff"/>
<rect x="631" y="291" width="1" height="45" fill="#000"/>
<rect x="629" y="294" width="5" height="33" fill="#000"/>
<rect x="639" y="287" width="1" height="44" fill="#000"/>
<rect x="637" y="294" width="5" height="32" fill="#000"/>
<rect x="638" y="295" width="3" height="30" fill="#fff"/>
<rect x="647" y="288" width="1" height="20" fill="#000"/>
<rect x="645" y="295" width="5" height="7" fill="#000"/>
<rect x="655" y="262" width="1" height="50" fill="#000"/>
<rect x="653" y="294" width="5" height="7" fill="#000"/>
<rect x="654" y="295" width="3" height="5" fill="#fff"/>
<rect x="663" y="260" width="1" height="46" fill="#000"/>
<rect x="661" y="295" width="5" height="1" fill="#000"/>
<rect x="671" y="246" width="1" height="72" fill="#000"/>
<rect x="669" y="257" width="5" height="40" fill="#000"/>
<rect x="670" y="258" width="3" height="38" fill="#fff"/>
<rect x="679" y="248" width="1" height="34" fill="#000"/>
<rect x="677" y="249" width="5" height="8" fill="#000"/>
<rect x="678" y="250" width="3" height="6" fill="#fff"/>
<rect x="687" y="210" width="1" height="15" fill="#000"/>
<rect x="685" y="212" width="5" height="12" fill="#000"/>
<rect x="686" y="213" width="3" height="10" fill="#fff"/>
<rect x="695" y="197" width="1" height="17" fill="#000"/>
<rect x="693" y="205" width="5" height="9" fill="#000"/>
<rect x="694" y="206" width="3" height="7" fill="#fff"/>
<rect x="703" y="199" width="1" height="17" fill="#000"/>
<rect x="701" y="206" width="5" height="4" fill="#000"/>
<rect x="711" y="201" width="1" height="13" fill="#000"/>
<rect x="709" y="208" width="5" height="1" fill="#000"/>
<rect x="719" y="167" width="1" height="51" fill="#000"/>
<rect x="717" y="182" width="5" height="26" fill="#000"/>
<rect x="718" y="183" width="3" height="24" fill="#fff"/>
<rect x="727" y="170" width="1" height="26" fill="#000"/>
<rect x="725" y="173" width="5" height="9" fill="#000"/>
<rect x="726" y="174" width="3" height="7" fill="#fff"/>
<rect x="735" y="144" width="1" height="30" fill="#000"/>
<rect x="733" y="146" width="5" height="28" fill="#000"/>
<rect x="734" y="147" width="3" height="26" fill="#fff"/>
<rect x="743" y="84" width="1" height="68" fill="#000"/>
<rect x="741" y="138" width="5" height="8" fill="#000"/>
<rect x="742" y="139" width="3" height="6" fill="#fff"/>
<rect x="751" y="128" width="1" height="20" fill="#000"/>
<rect x="749" y="137" width="5" height="5" fill="#000"/>
<rect x="759" y="136" width="1" height="35" fill="#000"/>
<rect x="757" y="140" width="5" height="10" fill="#000"/>
<rect x="767" y="119" width="1" height="38" fill="#000"/>
<rect x="765" y="126" width="5" height="24" fill="#000"/>
<rect x="766" y="127" width="3" height="22" fill="#fff"/>
<rect x="775" y="110" width="1" height="31" fill="#000"/>
<rect x="773" y="124" width="5" height="2" fill="#000"/>
<rect x="783" y="91" width="1" height="45" fill="#000"/>
<rect x="781" y="102" width="5" height="23" fill="#000"/>
<rect x="782" y="103" width="3" height="21" fill="#fff"/>
<rect x="791" y="89" width="1" height="20" fill="#000"/>
<rect x="789" y="93" width="5" height="10" fill="#000"/>
<rect x="790" y="94" width="3" height="8" fill="#fff"/>
<rect x="799" y="82" width="1" height="20" fill="#000"/>
<rect x="797" y="85" width="5" height="8" fill="#000"/>
<rect x="798" y="86" width="3" height="6" fill="#fff"/>
<rect x="807" y="70" width="1" height="29" fill="#000"/>
<rect x="805" y="86" width="5" height="7" fill="#000"/>
<rect x="815" y="88" width="1" height="49" fill="#000"/>
<rect x="813" y="91" width="5" height="26" fill="#000"/>
<rect x="823" y="84" width="1" height="41" fill="#000"/>
<rect x="821" y="90" width="5" height="27" fill="#000"/>
<rect x="822" y="91" width="3" height="25" fill="#fff"/>
<rect x="831" y="80" width="1" height="53" fill="#000"/>
<rect x="829" y="90" width="5" height="38" fill="#000"/>
<rect x="839" y="116" width="1" height="26" fill="#000"/>
<rect x="837" y="125" width="5" height="3" fill="#000"/>
<rect x="838" y="126" width="3" height="1" fill="#fff"/>
<rect x="847" y="123" width="1" height="17" fill="#000"/>
<rect x="845" y="125" width="5" height="7" fill="#000"/>
<rect x="855" y="123" width="1" height="22" fill="#000"/>
<rect x="853" y="126" width="5" height="5" fill="#000"/>
<rect x="854" y="127" width="3" height="3" fill="#fff"/>
<rect x="863" y="112" width="1" height="19" fill="#000"/>
<rect x="861" y="116" width="5" height="10" fill="#000"/>
<rect x="862" y="117" width="3" height="8" fill="#fff"/>
<rect x="871" y="101" width="1" height="17" fill="#000"/>
<rect x="869" y="110" width="5" height="7" fill="#000"/>
<rect x="870" y="111" width="3" height="5" fill="#fff"/>
<rect x="879" y="99" width="1" height="11" fill="#000"/>
<rect x="877" y="102" width="5" height="5" fill="#000"/>
<rect x="878" y="103" width="3" height="3" fill="#fff"/>
<rect x="887" y="101" width="1" height="34" fill="#000"/>
<rect x="885" y="101" width="5" height="27" fill="#000"/>
<rect x="895" y="128" width="1" height="15" fill="#000"/>
<rect x="893" y="128" width="5" height="5" fill="#000"/>
<rect x="903" y="112" width="1" height="34" fill="#000"/>
<rect x="901" y="114" width="5" height="20" fill="#000"/>
<rect x="902" y="115" width="3" height="18" fill="#fff"/>
<rect x="911" y="104" width="1" height="32" fill="#000"/>
<rect x="909" y="114" width="5" height="3" fill="#000"/>
<rect x="919" y="113" width="1" height="33" fill="#000"/>
<rect x="917" y="116" width="5" height="16" fill="#000"/>
<rect x="927" y="106" width="1" height="19" fill="#000"/>
<rect x="925" y="107" width="5" height="10" fill="#000"/>
<rect x="926" y="108" width="3" height="8" fill="#fff"/>
<rect x="935" y="73" width="1" height="36" fill="#000"/>
<rect x="933" y="73" width="5" height="34" fill="#000"/>
<rect x="934" y="74" width="3" height="32" fill="#fff"/>
<rect x="943" y="72" width="1" height="21" fill="#000"/>
<rect x="941" y="72" width="5" height="18" fill="#000"/>
<rect x="951" y="56" width="1" height="55" fill="#000"/>
<rect x="949" y="88" width="5" height="12" fill="#000"/>
<rect x="959" y="96" width="1" height="177" fill="#000"/>
<rect x="957" y="100" width="5" height="168" fill="#000"/>
<rect x="967" y="243" width="1" height="51" fill="#000"/>
<rect x="965" y="255" width="5" height="14" fill="#000"/>
<rect x="966" y="256" width="3" height="12" fill="#fff"/>
<rect x="975" y="254" width="1" height="66" fill="#000"/>
<rect x="973" y="254" width="5" height="51" fill="#000"/>
<rect x="983" y="258" width="1" height="59" fill="#000"/>
<rect x="981" y="266" width="5" height="38" fill="#000"/>
<rect x="982" y="267" width="3" height="36" fill="#fff"/>
<rect x="991" y="261" width="1" height="24" fill="#000"/>
<rect x="989" y="266" width="5" height="19" fill="#000"/>
<rect x="999" y="263" width="1" height="102" fill="#000"/>
<rect x="997" y="284" width="5" height="59" fill="#000"/>
<rect x="1007" y="343" width="1" height="225" fill="#000"/>
<rect x="1005" y="343" width="5" height="211" fill="#000"/>
<rect x="1015" y="477" width="1" height="90" fill="#000"/>
<rect x="1013" y="497" width="5" height="58" fill="#000"/>
<rect x="1014" y="498" width="3" height="56" fill="#fff"/>
<rect x="1023" y="451" width="1" height="52" fill="#000"/>
<rect x="1021" y="454" width="5" height="43" fill="#000"/>
<rect x="1022" y="455" width="3" height="41" fill="#fff"/>
<rect x="1031" y="444" width="1" height="40" fill="#000"/>
<rect x="1029" y="450" width="5" height="11" fill="#000"/>
<rect x="1039" y="454" width="1" height="63" fill="#000"/>
<rect x="1037" y="459" width="5" height="56" fill="#000"/>
<rect x="1047" y="376" width="1" height="143" fill="#000"/>
<rect x="1045" y="378" width="5" height="136" fill="#000"/>
<rect x="1046" y="379" width="3" height="134" fill="#fff"/>
<rect x="1055" y="335" width="1" height="72" fill="#000"/>
<rect x="1053" y="346" width="5" height="31" fill="#000"/>
<rect x="1054" y="347" width="3" height="29" fill="#fff"/>
<rect x="1063" y="328" width="1" height="32" fill="#000"/>
<rect x="1061" y="338" width="5" height="9" fill="#000"/>
<rect x="1062" y="339" width="3" height="7" fill="#fff"/>
<rect x="1071" y="336" width="1" height="55" fill="#000"/>
<rect x="1069" y="338" width="5" height="45" fill="#000"/>
<rect x="1079" y="355" width="1" height="39" fill="#000"/>
<rect x="1077" y="378" width="5" height="3" fill="#000"/>
<rect x="1078" y="379" width="3" height="1" fill="#fff"/>
<rect x="1087" y="331" width="1" height="52" fill="#000"/>
<rect x="1085" y="337" width="5" height="42" fill="#000"/>
<rect x="1086" y="338" width="3" height="40" fill="#fff"/>
<rect x="1095" y="301" width="1" height="64" fill="#000"/>
<rect x="1093" y="312" width="5" height="27" fill="#000"/>
<rect x="1094" y="313" width="3" height="25" fill="#fff"/>
<rect x="1103" y="311" width="1" height="115" fill="#000"/>
<rect x="1101" y="312" width="5" height="80" fill="#000"/>
<rect x="1111" y="356" width="1" height="55" fill="#000"/>
<rect x="1109" y="377" width="5" height="17" fill="#000"/>
<rect x="1110" y="378" width="3" height="15" fill="#fff"/>
<rect x="1119" y="345" width="1" height="34" fill="#000"/>
<rect x="1117" y="350" width="5" height="27" fill="#000"/>
<rect x="1118" y="351" width="3" height="25" fill="#fff"/>
<rect x="1127" y="327" width="1" height="24" fill="#000"/>
<rect x="1125" y="335" width="5" height="16" fill="#000"/>
<rect x="1126" y="336" width="3" height="14" fill="#fff"/>
<rect x="1135" y="305" width="1" height="40" fill="#000"/>
<rect x="1133" y="324" width="5" height="11" fill="#000"/>
<rect x="1134" y="325" width="3" height="9" fill="#fff"/>
<rect x="1143" y="309" width="1" height="29" fill="#000"/>
<rect x="1141" y="310" width="5" height="17" fill="#000"/>
<rect x="1142" y="311" width="3" height="15" fill="#fff"/>
<rect x="1151" y="174" width="1" height="171" fill="#000"/>
<rect x="1149" y="183" width="5" height="128" fill="#000"/>
<rect x="1150" y="184" width="3" height="126" fill="#fff"/>
<rect x="1159" y="151" width="1" height="33" fill="#000"/>
<rect x="1157" y="160" width="5" height="24" fill="#000"/>
<rect x="1158" y="161" width="3" height="22" fill="#fff"/>
<rect x="1167" y="147" width="1" height="23" fill="#000"/>
<rect x="1165" y="160" width="5" height="2" fill="#000"/>
<rect x="1175" y="143" width="1" height="15" fill="#000"/>
<rect x="1173" y="147" width="5" height="11" fill="#000"/>
<rect x="1183" y="158" width="1" height="34" fill="#000"/>
<rect x="1181" y="158" width="5" height="23" fill="#000"/>
<rect x="1191" y="157" width="1" height="30" fill="#000"/>
<rect x="1189" y="161" width="5" height="21" fill="#000"/>
<rect x="1190" y="162" width="3" height="19" fill="#fff"/>
<rect x="1199" y="157" width="1" height="38" fill="#000"/>
<rect x="1197" y="160" width="5" height="25" fill="#000"/>
<rect x="1207" y="159" width="1" height="29" fill="#000"/>
<rect x="1205" y="173" width="5" height="13" fill="#000"/>
<rect x="1206" y="174" width="3" height="11" fill="#fff"/>
<rect x="1215" y="173" width="1" height="40" fill="#000"/>
<rect x="1213" y="174" width="5" height="22" fill="#000"/>
<rect x="1223" y="188" width="1" height="54" fill="#000"/>
<rect x="1221" y="195" width="5" height="27" fill="#000"/>
<rect x="1231" y="206" width="1" height="28" fill="#000"/>
<rect x="1229" y="212" width="5" height="8" fill="#000"/>
<rect x="1230" y="213" width="3" height="6" fill="#fff"/>
<rect x="1239" y="208" width="1" height="15" fill="#000"/>
<rect x="1237" y="212" width="5" height="6" fill="#000"/>
<rect x="1247" y="216" width="1" height="113" fill="#000"/>
<rect x="1245" y="218" width="5" height="66" fill="#000"/>
<rect x="1255" y="203" width="1" height="94" fill="#000"/>
<rect x="1253" y="203" width="5" height="81" fill="#000"/>
<rect x="1254" y="204" width="3" height="79" fill="#fff"/>
<rect x="1263" y="203" width="1" height="42" fill="#000"/>
<rect x="1261" y="203" width="5" height="11" fill="#000"/>
<rect x="1271" y="205" width="1" height="46" fill="#000"/>
<rect x="1269" y="212" width="5" height="16" fill="#000"/>
<rect x="1279" y="221" width="1" height="28" fill="#000"/>
<rect x="1277" y="227" width="5" height="2" fill="#000"/>
<rect x="1287" y="216" width="1" height="23" fill="#000"/>
<rect x="1285" y="227" width="5" height="6" fill="#000"/>
<rect x="1295" y="182" width="1" height="71" fill="#000"/>
<rect x="1293" y="232" width="5" height="3" fill="#000"/>
<rect x="1294" y="233" width="3" height="1" fill="#fff"/>
<rect x="1303" y="220" width="1" height="57" fill="#000"/>
<rect x="1301" y="232" width="5" height="33" fill="#000"/>
<rect x="1311" y="215" width="1" height="68" fill="#000"/>
<rect x="1309" y="217" width="5" height="48" fill="#000"/>
<rect x="1310" y="218" width="3" height="46" fill="#fff"/>
<rect x="1319" y="210" width="1" height="30" fill="#000"/>
<rect x="1317" y="211" width="5" height="6" fill="#000"/>
<rect x="1318" y="212" width="3" height="4" fill="#fff"/>
<rect x="1250" y="193" width="83" height="10" fill="#00ff00"/>
</g>
<rect x="1622" y="130" width="5" height="5" fill="#ff0000"/>
<rect x="1623" y="131" width="3" height="3" fill="#fff"/>
<rect x="-1" y="130" width="5" height="5" fill="#ff0000"/>
<rect x="0" y="131" width="3" height="3" fill="#fff"/>
<rect x="1629" y="126" width="41" height="11" fill="#ff0000"/>
<text x="1633" y="135.2" font-size="10" fill="#fff" class="kw" textLength="33" lengthAdjust="spacingAndGlyphs">28062.2</text>
<rect x="1622" y="164" width="5" height="5" fill="#ff0000"/>
<rect x="1623" y="165" width="3" height="3" fill="#fff"/>
<rect x="-1" y="164" width="5" height="5" fill="#ff0000"/>
<rect x="0" y="165" width="3" height="3" fill="#fff"/>
<rect x="1629" y="160" width="41" height="11" fill="#ff0000"/>
<text x="1633" y="169.2" font-size="10" fill="#fff" class="kw" textLength="33" lengthAdjust="spacingAndGlyphs">28003.5</text>
<rect x="1622" y="197" width="5" height="5" fill="#32cd32"/>
<rect x="1623" y="198" width="3" height="3" fill="#fff"/>
<rect x="-1" y="197" width="5" height="5" fill="#32cd32"/>
<rect x="0" y="198" width="3" height="3" fill="#fff"/>
<rect x="1629" y="193" width="41" height="11" fill="#32cd32"/>
<text x="1633" y="202.2" font-size="10" fill="#fff" class="kw" textLength="33" lengthAdjust="spacingAndGlyphs">27946.5</text>
<rect x="1622" y="246" width="5" height="5" fill="#0000ff"/>
<rect x="1623" y="247" width="3" height="3" fill="#fff"/>
<rect x="-1" y="246" width="5" height="5" fill="#0000ff"/>
<rect x="0" y="247" width="3" height="3" fill="#fff"/>
<rect x="1629" y="242" width="41" height="11" fill="#0000ff"/>
<text x="1633" y="251.2" font-size="10" fill="#fff" class="kw" textLength="33" lengthAdjust="spacingAndGlyphs">27861.9</text>
<rect x="1622" y="288" width="5" height="5" fill="#0000ff"/>
<rect x="1623" y="289" width="3" height="3" fill="#fff"/>
<rect x="-1" y="288" width="5" height="5" fill="#0000ff"/>
<rect x="0" y="289" width="3" height="3" fill="#fff"/>
<rect x="1629" y="284" width="41" height="11" fill="#0000ff"/>
<text x="1633" y="293.2" font-size="10" fill="#fff" class="kw" textLength="33" lengthAdjust="spacingAndGlyphs">27789.4</text>
<rect x="1629" y="206" width="41" height="11" fill="#000"/>
<text x="1633" y="215.2" font-size="10" fill="#fff" class="kw" textLength="33" lengthAdjust="spacingAndGlyphs">27926.0</text>
<polygon points="1327,29 1338,29 1332.5,34.5" fill="#b0b0b0"/>
<rect x="1440" y="199" width="8" height="1" fill="#ff0000"/>
<rect x="1447" y="198" width="3" height="3" fill="#ff0000"/>
<rect x="1448" y="199" width="1" height="1" fill="#fff"/>
<rect x="1450.5" y="183.5" width="99" height="32" fill="#fff" stroke="#ff0000" stroke-width="1"/>
<text x="1451.5" y="209.8" font-size="29.3" fill="#ff0000" textLength="97" lengthAdjust="spacingAndGlyphs">27946.5</text>
<text x="1388.2" y="283.2" font-size="32" font-weight="600" fill="#007000" style="font-family:'Liberation Serif','Noto Serif CJK SC',serif" textLength="161" lengthAdjust="spacingAndGlyphs">多空转折点</text>
<text x="1387" y="282" font-size="32" font-weight="600" fill="#00ff00" style="font-family:'Liberation Serif','Noto Serif CJK SC',serif" textLength="161" lengthAdjust="spacingAndGlyphs">多空转折点</text>
<polygon points="2,39 9,39 5.5,35" fill="#000"/>
<text x="14" y="40" font-size="10" fill="#000" class="k" textLength="186" lengthAdjust="spacingAndGlyphs">DJ30-,H4&#160; 27917.0 27927.0 27877.0 27926.0</text>
<clipPath id="c2"><rect x="0" y="584" width="1627" height="182"/></clipPath>
<g clip-path="url(#c2)">
<rect x="7" y="594" width="1" height="69" fill="#c0c0c0"/>
<rect x="15" y="595" width="1" height="68" fill="#c0c0c0"/>
<rect x="23" y="598" width="1" height="65" fill="#c0c0c0"/>
<rect x="31" y="597" width="1" height="66" fill="#c0c0c0"/>
<rect x="39" y="599" width="1" height="64" fill="#c0c0c0"/>
<rect x="47" y="603" width="1" height="60" fill="#c0c0c0"/>
<rect x="55" y="606" width="1" height="57" fill="#c0c0c0"/>
<rect x="63" y="608" width="1" height="55" fill="#c0c0c0"/>
<rect x="71" y="612" width="1" height="51" fill="#c0c0c0"/>
<rect x="79" y="615" width="1" height="48" fill="#c0c0c0"/>
<rect x="87" y="618" width="1" height="45" fill="#c0c0c0"/>
<rect x="95" y="621" width="1" height="42" fill="#c0c0c0"/>
<rect x="103" y="617" width="1" height="46" fill="#c0c0c0"/>
<rect x="111" y="614" width="1" height="49" fill="#c0c0c0"/>
<rect x="119" y="605" width="1" height="58" fill="#c0c0c0"/>
<rect x="127" y="601" width="1" height="62" fill="#c0c0c0"/>
<rect x="135" y="598" width="1" height="65" fill="#c0c0c0"/>
<rect x="143" y="597" width="1" height="66" fill="#c0c0c0"/>
<rect x="151" y="599" width="1" height="64" fill="#c0c0c0"/>
<rect x="159" y="599" width="1" height="64" fill="#c0c0c0"/>
<rect x="167" y="604" width="1" height="59" fill="#c0c0c0"/>
<rect x="175" y="608" width="1" height="55" fill="#c0c0c0"/>
<rect x="183" y="610" width="1" height="53" fill="#c0c0c0"/>
<rect x="191" y="612" width="1" height="51" fill="#c0c0c0"/>
<rect x="199" y="618" width="1" height="45" fill="#c0c0c0"/>
<rect x="207" y="624" width="1" height="39" fill="#c0c0c0"/>
<rect x="215" y="630" width="1" height="33" fill="#c0c0c0"/>
<rect x="223" y="634" width="1" height="29" fill="#c0c0c0"/>
<rect x="231" y="632" width="1" height="31" fill="#c0c0c0"/>
<rect x="239" y="632" width="1" height="31" fill="#c0c0c0"/>
<rect x="247" y="633" width="1" height="30" fill="#c0c0c0"/>
<rect x="255" y="630" width="1" height="33" fill="#c0c0c0"/>
<rect x="263" y="628" width="1" height="35" fill="#c0c0c0"/>
<rect x="271" y="629" width="1" height="34" fill="#c0c0c0"/>
<rect x="279" y="631" width="1" height="32" fill="#c0c0c0"/>
<rect x="287" y="633" width="1" height="30" fill="#c0c0c0"/>
<rect x="295" y="638" width="1" height="25" fill="#c0c0c0"/>
<rect x="303" y="640" width="1" height="23" fill="#c0c0c0"/>
<rect x="311" y="644" width="1" height="19" fill="#c0c0c0"/>
<rect x="319" y="643" width="1" height="20" fill="#c0c0c0"/>
<rect x="327" y="640" width="1" height="23" fill="#c0c0c0"/>
<rect x="335" y="635" width="1" height="28" fill="#c0c0c0"/>
<rect x="343" y="634" width="1" height="29" fill="#c0c0c0"/>
<rect x="351" y="632" width="1" height="31" fill="#c0c0c0"/>
<rect x="359" y="632" width="1" height="31" fill="#c0c0c0"/>
<rect x="367" y="632" width="1" height="31" fill="#c0c0c0"/>
<rect x="375" y="634" width="1" height="29" fill="#c0c0c0"/>
<rect x="383" y="632" width="1" height="31" fill="#c0c0c0"/>
<rect x="391" y="628" width="1" height="35" fill="#c0c0c0"/>
<rect x="399" y="626" width="1" height="37" fill="#c0c0c0"/>
<rect x="407" y="625" width="1" height="38" fill="#c0c0c0"/>
<rect x="415" y="622" width="1" height="41" fill="#c0c0c0"/>
<rect x="423" y="617" width="1" height="46" fill="#c0c0c0"/>
<rect x="431" y="613" width="1" height="50" fill="#c0c0c0"/>
<rect x="439" y="611" width="1" height="52" fill="#c0c0c0"/>
<rect x="447" y="609" width="1" height="54" fill="#c0c0c0"/>
<rect x="455" y="605" width="1" height="58" fill="#c0c0c0"/>
<rect x="463" y="603" width="1" height="60" fill="#c0c0c0"/>
<rect x="471" y="604" width="1" height="59" fill="#c0c0c0"/>
<rect x="479" y="604" width="1" height="59" fill="#c0c0c0"/>
<rect x="487" y="605" width="1" height="58" fill="#c0c0c0"/>
<rect x="495" y="606" width="1" height="57" fill="#c0c0c0"/>
<rect x="503" y="606" width="1" height="57" fill="#c0c0c0"/>
<rect x="511" y="604" width="1" height="59" fill="#c0c0c0"/>
<rect x="519" y="614" width="1" height="49" fill="#c0c0c0"/>
<rect x="527" y="621" width="1" height="42" fill="#c0c0c0"/>
<rect x="535" y="629" width="1" height="34" fill="#c0c0c0"/>
<rect x="543" y="637" width="1" height="26" fill="#c0c0c0"/>
<rect x="551" y="643" width="1" height="20" fill="#c0c0c0"/>
<rect x="559" y="649" width="1" height="14" fill="#c0c0c0"/>
<rect x="567" y="653" width="1" height="10" fill="#c0c0c0"/>
<rect x="575" y="660" width="1" height="3" fill="#c0c0c0"/>
<rect x="583" y="662" width="1" height="3" fill="#c0c0c0"/>
<rect x="591" y="662" width="1" height="7" fill="#c0c0c0"/>
<rect x="599" y="662" width="1" height="10" fill="#c0c0c0"/>
<rect x="607" y="662" width="1" height="10" fill="#c0c0c0"/>
<rect x="615" y="662" width="1" height="15" fill="#c0c0c0"/>
<rect x="623" y="662" width="1" height="14" fill="#c0c0c0"/>
<rect x="631" y="662" width="1" height="16" fill="#c0c0c0"/>
<rect x="639" y="662" width="1" height="15" fill="#c0c0c0"/>
<rect x="647" y="662" width="1" height="13" fill="#c0c0c0"/>
<rect x="655" y="662" width="1" height="13" fill="#c0c0c0"/>
<rect x="663" y="662" width="1" height="14" fill="#c0c0c0"/>
<rect x="671" y="662" width="1" height="9" fill="#c0c0c0"/>
<rect x="679" y="662" width="1" height="5" fill="#c0c0c0"/>
<rect x="687" y="661" width="1" height="2" fill="#c0c0c0"/>
<rect x="695" y="656" width="1" height="7" fill="#c0c0c0"/>
<rect x="703" y="652" width="1" height="11" fill="#c0c0c0"/>
<rect x="711" y="649" width="1" height="14" fill="#c0c0c0"/>
<rect x="719" y="644" width="1" height="19" fill="#c0c0c0"/>
<rect x="727" y="641" width="1" height="22" fill="#c0c0c0"/>
<rect x="735" y="635" width="1" height="28" fill="#c0c0c0"/>
<rect x="743" y="631" width="1" height="32" fill="#c0c0c0"/>
<rect x="751" y="628" width="1" height="35" fill="#c0c0c0"/>
<rect x="759" y="627" width="1" height="36" fill="#c0c0c0"/>
<rect x="767" y="625" width="1" height="38" fill="#c0c0c0"/>
<rect x="775" y="623" width="1" height="40" fill="#c0c0c0"/>
<rect x="783" y="621" width="1" height="42" fill="#c0c0c0"/>
<rect x="791" y="618" width="1" height="45" fill="#c0c0c0"/>
<rect x="799" y="616" width="1" height="47" fill="#c0c0c0"/>
<rect x="807" y="616" width="1" height="47" fill="#c0c0c0"/>
<rect x="815" y="618" width="1" height="45" fill="#c0c0c0"/>
<rect x="823" y="619" width="1" height="44" fill="#c0c0c0"/>
<rect x="831" y="622" width="1" height="41" fill="#c0c0c0"/>
<rect x="839" y="625" width="1" height="38" fill="#c0c0c0"/>
<rect x="847" y="628" width="1" height="35" fill="#c0c0c0"/>
<rect x="855" y="631" width="1" height="32" fill="#c0c0c0"/>
<rect x="863" y="632" width="1" height="31" fill="#c0c0c0"/>
<rect x="871" y="633" width="1" height="30" fill="#c0c0c0"/>
<rect x="879" y="634" width="1" height="29" fill="#c0c0c0"/>
<rect x="887" y="637" width="1" height="26" fill="#c0c0c0"/>
<rect x="895" y="640" width="1" height="23" fill="#c0c0c0"/>
<rect x="903" y="641" width="1" height="22" fill="#c0c0c0"/>
<rect x="911" y="642" width="1" height="21" fill="#c0c0c0"/>
<rect x="919" y="644" width="1" height="19" fill="#c0c0c0"/>
<rect x="927" y="645" width="1" height="18" fill="#c0c0c0"/>
<rect x="935" y="642" width="1" height="21" fill="#c0c0c0"/>
<rect x="943" y="642" width="1" height="21" fill="#c0c0c0"/>
<rect x="951" y="643" width="1" height="20" fill="#c0c0c0"/>
<rect x="959" y="657" width="1" height="6" fill="#c0c0c0"/>
<rect x="967" y="662" width="1" height="5" fill="#c0c0c0"/>
<rect x="975" y="662" width="1" height="17" fill="#c0c0c0"/>
<rect x="983" y="662" width="1" height="23" fill="#c0c0c0"/>
<rect x="991" y="662" width="1" height="30" fill="#c0c0c0"/>
<rect x="999" y="662" width="1" height="39" fill="#c0c0c0"/>
<rect x="1007" y="662" width="1" height="64" fill="#c0c0c0"/>
<rect x="1015" y="662" width="1" height="77" fill="#c0c0c0"/>
<rect x="1023" y="662" width="1" height="84" fill="#c0c0c0"/>
<rect x="1031" y="662" width="1" height="88" fill="#c0c0c0"/>
<rect x="1039" y="662" width="1" height="95" fill="#c0c0c0"/>
<rect x="1047" y="662" width="1" height="88" fill="#c0c0c0"/>
<rect x="1055" y="662" width="1" height="79" fill="#c0c0c0"/>
<rect x="1063" y="662" width="1" height="71" fill="#c0c0c0"/>
<rect x="1071" y="662" width="1" height="67" fill="#c0c0c0"/>
<rect x="1079" y="662" width="1" height="62" fill="#c0c0c0"/>
<rect x="1087" y="662" width="1" height="55" fill="#c0c0c0"/>
<rect x="1095" y="662" width="1" height="46" fill="#c0c0c0"/>
<rect x="1103" y="662" width="1" height="45" fill="#c0c0c0"/>
<rect x="1111" y="662" width="1" height="43" fill="#c0c0c0"/>
<rect x="1119" y="662" width="1" height="39" fill="#c0c0c0"/>
<rect x="1127" y="662" width="1" height="33" fill="#c0c0c0"/>
<rect x="1135" y="662" width="1" height="29" fill="#c0c0c0"/>
<rect x="1143" y="662" width="1" height="23" fill="#c0c0c0"/>
<rect x="1151" y="662" width="1" height="7" fill="#c0c0c0"/>
<rect x="1159" y="656" width="1" height="7" fill="#c0c0c0"/>
<rect x="1167" y="646" width="1" height="17" fill="#c0c0c0"/>
<rect x="1175" y="637" width="1" height="26" fill="#c0c0c0"/>
<rect x="1183" y="633" width="1" height="30" fill="#c0c0c0"/>
<rect x="1191" y="628" width="1" height="35" fill="#c0c0c0"/>
<rect x="1199" y="626" width="1" height="37" fill="#c0c0c0"/>
<rect x="1207" y="625" width="1" height="38" fill="#c0c0c0"/>
<rect x="1215" y="626" width="1" height="37" fill="#c0c0c0"/>
<rect x="1223" y="629" width="1" height="34" fill="#c0c0c0"/>
<rect x="1231" y="631" width="1" height="32" fill="#c0c0c0"/>
<rect x="1239" y="634" width="1" height="29" fill="#c0c0c0"/>
<rect x="1247" y="642" width="1" height="21" fill="#c0c0c0"/>
<rect x="1255" y="642" width="1" height="21" fill="#c0c0c0"/>
<rect x="1263" y="642" width="1" height="21" fill="#c0c0c0"/>
<rect x="1271" y="644" width="1" height="19" fill="#c0c0c0"/>
<rect x="1279" y="646" width="1" height="17" fill="#c0c0c0"/>
<rect x="1287" y="648" width="1" height="15" fill="#c0c0c0"/>
<rect x="1295" y="650" width="1" height="13" fill="#c0c0c0"/>
<rect x="1303" y="654" width="1" height="9" fill="#c0c0c0"/>
<rect x="1311" y="653" width="1" height="10" fill="#c0c0c0"/>
<rect x="1319" y="653" width="1" height="10" fill="#c0c0c0"/>
<path d="M36 596h2v1h-2zM41 596h3v1h-3zM29 597h3v1h-3zM35 597h1v1h-1zM47 597h3v1h-3zM53 597h3v1h-3zM59 597h1v1h-1zM23 598h3v1h-3zM60 598h2v1h-2zM65 598h1v1h-1zM18 599h2v1h-2zM66 599h2v1h-2zM17 600h1v1h-1zM71 600h3v1h-3zM11 601h3v1h-3zM77 601h1v1h-1zM174 601h2v1h-2zM179 601h3v1h-3zM185 601h3v1h-3zM6 602h2v1h-2zM78 602h2v1h-2zM173 602h1v1h-1zM191 602h3v1h-3zM5 603h1v1h-1zM83 603h1v1h-1zM167 603h3v1h-3zM197 603h3v1h-3zM1 604h1v1h-1zM84 604h2v1h-2zM161 604h3v1h-3zM203 604h1v1h-1zM509 604h3v1h-3zM515 604h1v1h-1zM0 605h1v1h-1zM155 605h3v1h-3zM204 605h2v1h-2zM503 605h3v1h-3zM516 605h2v1h-2zM521 605h3v1h-3zM89 606h3v1h-3zM150 606h2v1h-2zM492 606h2v1h-2zM497 606h3v1h-3zM527 606h2v1h-2zM149 607h1v1h-1zM209 607h2v1h-2zM486 607h2v1h-2zM491 607h1v1h-1zM529 607h1v1h-1zM95 608h3v1h-3zM143 608h3v1h-3zM211 608h1v1h-1zM485 608h1v1h-1zM533 608h1v1h-1zM101 609h1v1h-1zM138 609h2v1h-2zM479 609h3v1h-3zM534 609h2v1h-2zM102 610h2v1h-2zM107 610h1v1h-1zM132 610h2v1h-2zM137 610h1v1h-1zM215 610h2v1h-2zM474 610h2v1h-2zM539 610h1v1h-1zM108 611h2v1h-2zM113 611h3v1h-3zM125 611h3v1h-3zM131 611h1v1h-1zM217 611h1v1h-1zM473 611h1v1h-1zM540 611h2v1h-2zM119 612h3v1h-3zM467 612h3v1h-3zM221 613h2v1h-2zM462 613h2v1h-2zM545 613h1v1h-1zM223 614h1v1h-1zM461 614h1v1h-1zM546 614h2v1h-2zM457 615h1v1h-1zM227 616h2v1h-2zM455 616h2v1h-2zM229 617h1v1h-1zM450 617h2v1h-2zM551 617h1v1h-1zM449 618h1v1h-1zM552 618h2v1h-2zM233 619h3v1h-3zM445 619h1v1h-1zM821 619h3v1h-3zM827 619h3v1h-3zM833 619h3v1h-3zM839 619h3v1h-3zM845 619h3v1h-3zM851 619h1v1h-1zM443 620h2v1h-2zM815 620h3v1h-3zM852 620h2v1h-2zM857 620h1v1h-1zM239 621h2v1h-2zM557 621h2v1h-2zM809 621h3v1h-3zM858 621h2v1h-2zM241 622h1v1h-1zM438 622h2v1h-2zM559 622h1v1h-1zM804 622h2v1h-2zM863 622h3v1h-3zM245 623h1v1h-1zM437 623h1v1h-1zM803 623h1v1h-1zM869 623h1v1h-1zM246 624h2v1h-2zM433 624h1v1h-1zM563 624h1v1h-1zM798 624h2v1h-2zM870 624h2v1h-2zM251 625h3v1h-3zM431 625h2v1h-2zM564 625h1v1h-1zM797 625h1v1h-1zM875 625h3v1h-3zM257 626h1v1h-1zM426 626h2v1h-2zM565 626h1v1h-1zM793 626h1v1h-1zM881 626h1v1h-1zM258 627h2v1h-2zM420 627h2v1h-2zM425 627h1v1h-1zM791 627h2v1h-2zM882 627h2v1h-2zM263 628h3v1h-3zM413 628h3v1h-3zM419 628h1v1h-1zM569 628h1v1h-1zM887 628h3v1h-3zM269 629h3v1h-3zM275 629h3v1h-3zM281 629h3v1h-3zM407 629h3v1h-3zM570 629h2v1h-2zM785 629h3v1h-3zM893 629h1v1h-1zM1236 629h1v1h-1zM1240 629h3v1h-3zM1246 629h3v1h-3zM287 630h3v1h-3zM401 630h3v1h-3zM894 630h2v1h-2zM1230 630h1v1h-1zM1234 630h2v1h-2zM1252 630h3v1h-3zM293 631h3v1h-3zM299 631h3v1h-3zM305 631h3v1h-3zM395 631h3v1h-3zM780 631h2v1h-2zM899 631h3v1h-3zM1228 631h2v1h-2zM1258 631h3v1h-3zM311 632h3v1h-3zM390 632h2v1h-2zM575 632h1v1h-1zM779 632h1v1h-1zM905 632h1v1h-1zM1264 632h2v1h-2zM317 633h1v1h-1zM389 633h1v1h-1zM576 633h1v1h-1zM774 633h2v1h-2zM906 633h2v1h-2zM1223 633h2v1h-2zM1266 633h1v1h-1zM318 634h2v1h-2zM323 634h1v1h-1zM383 634h3v1h-3zM577 634h1v1h-1zM773 634h1v1h-1zM911 634h3v1h-3zM1222 634h1v1h-1zM1270 634h3v1h-3zM324 635h2v1h-2zM329 635h3v1h-3zM335 635h3v1h-3zM372 635h2v1h-2zM377 635h3v1h-3zM769 635h1v1h-1zM917 635h1v1h-1zM341 636h3v1h-3zM347 636h3v1h-3zM353 636h3v1h-3zM359 636h3v1h-3zM365 636h3v1h-3zM371 636h1v1h-1zM767 636h2v1h-2zM918 636h2v1h-2zM1217 636h2v1h-2zM1276 636h2v1h-2zM581 637h1v1h-1zM923 637h3v1h-3zM1216 637h1v1h-1zM1278 637h1v1h-1zM582 638h1v1h-1zM761 638h3v1h-3zM929 638h3v1h-3zM1282 638h3v1h-3zM583 639h1v1h-1zM935 639h3v1h-3zM1288 639h2v1h-2zM757 640h1v1h-1zM941 640h3v1h-3zM947 640h1v1h-1zM1212 640h1v1h-1zM1290 640h1v1h-1zM755 641h2v1h-2zM948 641h2v1h-2zM953 641h1v1h-1zM1210 641h2v1h-2zM1294 641h3v1h-3zM587 642h1v1h-1zM954 642h2v1h-2zM588 643h2v1h-2zM751 643h1v1h-1zM959 643h2v1h-2zM1300 643h2v1h-2zM749 644h2v1h-2zM961 644h1v1h-1zM1302 644h1v1h-1zM965 645h1v1h-1zM1206 645h1v1h-1zM1306 645h3v1h-3zM593 646h1v1h-1zM966 646h2v1h-2zM1205 646h1v1h-1zM1312 646h3v1h-3zM594 647h1v1h-1zM744 647h2v1h-2zM1204 647h1v1h-1zM1318 647h2v1h-2zM595 648h1v1h-1zM743 648h1v1h-1zM971 648h2v1h-2zM973 649h1v1h-1zM1200 650h1v1h-1zM599 651h1v1h-1zM738 651h2v1h-2zM977 651h1v1h-1zM1199 651h1v1h-1zM600 652h2v1h-2zM737 652h1v1h-1zM978 652h2v1h-2zM1198 652h1v1h-1zM733 654h1v1h-1zM605 655h2v1h-2zM731 655h2v1h-2zM983 655h1v1h-1zM607 656h1v1h-1zM984 656h2v1h-2zM1194 656h1v1h-1zM727 657h1v1h-1zM1193 657h1v1h-1zM611 658h1v1h-1zM725 658h2v1h-2zM1192 658h1v1h-1zM612 659h1v1h-1zM989 659h1v1h-1zM613 660h1v1h-1zM721 660h1v1h-1zM990 660h1v1h-1zM719 661h2v1h-2zM991 661h1v1h-1zM617 662h2v1h-2zM1188 662h1v1h-1zM619 663h1v1h-1zM713 663h3v1h-3zM1187 663h1v2h-1zM995 664h1v1h-1zM623 665h2v1h-2zM708 665h2v1h-2zM996 665h1v1h-1zM625 666h1v1h-1zM707 666h1v1h-1zM997 666h1v1h-1zM703 667h1v1h-1zM629 668h2v1h-2zM701 668h2v1h-2zM1183 668h1v1h-1zM631 669h1v1h-1zM1182 669h1v1h-1zM635 670h1v1h-1zM697 670h1v1h-1zM1001 670h1v1h-1zM1181 670h1v1h-1zM636 671h2v1h-2zM695 671h2v1h-2zM1002 671h1v1h-1zM641 672h1v1h-1zM690 672h2v1h-2zM1003 672h1v1h-1zM642 673h2v1h-2zM689 673h1v1h-1zM647 674h3v1h-3zM683 674h3v1h-3zM1177 674h1v1h-1zM653 675h3v1h-3zM659 675h3v1h-3zM665 675h3v1h-3zM671 675h3v1h-3zM677 675h3v1h-3zM1176 675h1v1h-1zM1007 676h1v1h-1zM1175 676h1v1h-1zM1008 677h1v2h-1zM1171 680h1v1h-1zM1170 681h1v1h-1zM1011 682h1v1h-1zM1169 682h1v1h-1zM1012 683h1v1h-1zM1013 684h1v1h-1zM1165 686h1v1h-1zM1164 687h1v1h-1zM1016 688h1v2h-1zM1163 688h1v1h-1zM1017 690h1v1h-1zM1159 691h1v1h-1zM1158 692h1v1h-1zM1157 693h1v1h-1zM1020 694h1v1h-1zM1021 695h1v1h-1zM1022 696h1v1h-1zM1153 696h1v1h-1zM1152 697h1v1h-1zM1151 698h1v1h-1zM1024 700h1v1h-1zM1025 701h1v1h-1zM1147 701h1v1h-1zM1026 702h1v1h-1zM1146 702h1v1h-1zM1145 703h1v1h-1zM1141 705h1v1h-1zM1029 706h1v1h-1zM1139 706h2v1h-2zM1030 707h1v2h-1zM1135 708h1v1h-1zM1133 709h2v1h-2zM1033 712h1v1h-1zM1128 712h2v1h-2zM1034 713h1v1h-1zM1127 713h1v1h-1zM1035 714h1v1h-1zM1122 716h2v1h-2zM1121 717h1v1h-1zM1038 718h1v2h-1zM1039 720h1v1h-1zM1116 720h2v1h-2zM1115 721h1v1h-1zM1043 723h1v1h-1zM1044 724h1v1h-1zM1111 724h1v1h-1zM1045 725h1v1h-1zM1109 725h2v1h-2zM1049 728h1v1h-1zM1104 728h2v1h-2zM1050 729h1v1h-1zM1103 729h1v1h-1zM1051 730h1v1h-1zM1099 731h1v1h-1zM1097 732h2v1h-2zM1055 733h1v1h-1zM1056 734h2v1h-2zM1093 734h1v1h-1zM1092 735h1v1h-1zM1091 736h1v1h-1zM1061 737h2v1h-2zM1063 738h1v1h-1zM1086 738h2v1h-2zM1067 739h3v1h-3zM1085 739h1v1h-1zM1073 740h3v1h-3zM1079 740h3v1h-3z" fill="#ff0000"/>
</g>
<text x="3" y="595.8" font-size="10" fill="#000" class="k" textLength="118" lengthAdjust="spacingAndGlyphs">MACD(12,26,9) 16.53 24.28</text>
<rect x="1628" y="585" width="1" height="1" fill="#000"/>
<text x="1631" y="594" font-size="10" fill="#000" class="k" textLength="28" lengthAdjust="spacingAndGlyphs">127.54</text>
<rect x="1628" y="662" width="1" height="1" fill="#000"/>
<text x="1631" y="666" font-size="10" fill="#000" class="k" textLength="18" lengthAdjust="spacingAndGlyphs">0.00</text>
<rect x="1628" y="765" width="1" height="1" fill="#000"/>
<text x="1631" y="763" font-size="10" fill="#000" class="k" textLength="26" lengthAdjust="spacingAndGlyphs">-171.7</text>
<clipPath id="c3"><rect x="0" y="769" width="1627" height="159"/></clipPath>
<g clip-path="url(#c3)">
<line x1="0" y1="801.5" x2="1627" y2="801.5" stroke="#c0c0c0" stroke-width="1" stroke-dasharray="3 3"/>
<line x1="0" y1="848.5" x2="1627" y2="848.5" stroke="#c0c0c0" stroke-width="1" stroke-dasharray="3 3"/>
<line x1="0" y1="904.5" x2="1627" y2="904.5" stroke="#c0c0c0" stroke-width="1" stroke-dasharray="3 3"/>
<path d="M119 802h1v1h-1zM118 803h1v2h-1zM120 803h1v2h-1zM117 805h1v1h-1zM121 805h1v1h-1zM116 806h1v1h-1zM122 806h1v2h-1zM115 807h1v2h-1zM796 807h5v1h-5zM123 808h1v1h-1zM790 808h6v1h-6zM801 808h3v1h-3zM114 809h1v1h-1zM124 809h1v2h-1zM786 809h4v1h-4zM804 809h2v1h-2zM113 810h1v1h-1zM455 810h9v1h-9zM783 810h3v1h-3zM806 810h2v1h-2zM112 811h1v2h-1zM125 811h1v1h-1zM454 811h1v1h-1zM464 811h1v2h-1zM781 811h2v1h-2zM808 811h1v2h-1zM0 812h2v1h-2zM126 812h1v2h-1zM134 812h2v1h-2zM452 812h2v1h-2zM779 812h2v1h-2zM2 813h4v1h-4zM12 813h4v1h-4zM108 813h4v1h-4zM130 813h4v1h-4zM136 813h1v1h-1zM451 813h1v1h-1zM465 813h1v2h-1zM777 813h2v1h-2zM809 813h1v2h-1zM6 814h6v1h-6zM16 814h1v1h-1zM103 814h5v1h-5zM127 814h3v1h-3zM137 814h1v1h-1zM428 814h5v1h-5zM450 814h1v1h-1zM510 814h2v1h-2zM742 814h4v1h-4zM772 814h5v1h-5zM17 815h1v1h-1zM31 815h1v1h-1zM103 815h1v1h-1zM138 815h1v1h-1zM423 815h5v1h-5zM433 815h2v1h-2zM448 815h2v1h-2zM466 815h1v1h-1zM506 815h4v1h-4zM511 815h1v2h-1zM738 815h4v1h-4zM746 815h4v1h-4zM767 815h5v1h-5zM810 815h1v2h-1zM18 816h2v1h-2zM29 816h2v1h-2zM32 816h1v1h-1zM102 816h1v2h-1zM139 816h1v2h-1zM422 816h1v1h-1zM435 816h2v1h-2zM446 816h2v1h-2zM467 816h1v2h-1zM502 816h4v1h-4zM735 816h3v1h-3zM750 816h3v1h-3zM765 816h2v1h-2zM20 817h1v1h-1zM28 817h1v1h-1zM33 817h1v2h-1zM420 817h2v1h-2zM437 817h2v1h-2zM442 817h4v1h-4zM498 817h4v1h-4zM512 817h1v4h-1zM734 817h1v1h-1zM753 817h2v1h-2zM764 817h1v1h-1zM811 817h1v2h-1zM21 818h1v1h-1zM26 818h2v1h-2zM101 818h1v2h-1zM140 818h1v1h-1zM158 818h2v1h-2zM419 818h1v1h-1zM439 818h3v1h-3zM468 818h1v1h-1zM494 818h4v1h-4zM732 818h2v1h-2zM755 818h2v1h-2zM762 818h2v1h-2zM823 818h1v2h-1zM22 819h1v1h-1zM24 819h2v1h-2zM34 819h1v1h-1zM141 819h1v1h-1zM154 819h4v1h-4zM160 819h1v2h-1zM418 819h1v1h-1zM469 819h1v2h-1zM479 819h3v1h-3zM492 819h2v1h-2zM731 819h1v1h-1zM757 819h2v1h-2zM760 819h2v1h-2zM812 819h1v2h-1zM822 819h1v1h-1zM23 820h1v1h-1zM35 820h1v1h-1zM100 820h1v2h-1zM142 820h1v1h-1zM148 820h6v1h-6zM416 820h2v1h-2zM477 820h2v1h-2zM482 820h4v1h-4zM489 820h3v1h-3zM730 820h1v1h-1zM759 820h1v1h-1zM821 820h1v1h-1zM824 820h1v2h-1zM36 821h1v1h-1zM143 821h5v1h-5zM161 821h1v2h-1zM391 821h2v1h-2zM415 821h1v1h-1zM470 821h1v2h-1zM475 821h2v1h-2zM486 821h3v1h-3zM513 821h1v4h-1zM728 821h2v1h-2zM813 821h1v2h-1zM820 821h1v1h-1zM37 822h1v2h-1zM99 822h1v3h-1zM390 822h1v1h-1zM393 822h3v1h-3zM414 822h1v1h-1zM473 822h2v1h-2zM726 822h2v1h-2zM818 822h2v1h-2zM825 822h1v2h-1zM162 823h1v2h-1zM389 823h1v1h-1zM396 823h2v1h-2zM412 823h2v1h-2zM471 823h2v1h-2zM722 823h4v1h-4zM814 823h1v2h-1zM817 823h1v1h-1zM38 824h1v1h-1zM388 824h1v1h-1zM398 824h3v1h-3zM411 824h1v1h-1zM719 824h3v1h-3zM816 824h1v1h-1zM826 824h1v2h-1zM935 824h1v1h-1zM39 825h2v1h-2zM98 825h1v2h-1zM163 825h1v1h-1zM387 825h1v2h-1zM401 825h3v1h-3zM410 825h1v1h-1zM514 825h1v4h-1zM718 825h1v1h-1zM815 825h1v1h-1zM934 825h1v1h-1zM936 825h1v1h-1zM41 826h2v1h-2zM62 826h3v1h-3zM164 826h1v2h-1zM255 826h2v1h-2zM271 826h1v2h-1zM404 826h2v1h-2zM408 826h2v1h-2zM716 826h2v1h-2zM827 826h1v2h-1zM933 826h1v2h-1zM937 826h1v1h-1zM1158 826h14v1h-14zM43 827h2v1h-2zM58 827h4v1h-4zM65 827h2v1h-2zM97 827h1v2h-1zM254 827h1v1h-1zM257 827h2v1h-2zM269 827h2v1h-2zM386 827h1v1h-1zM406 827h2v1h-2zM715 827h1v1h-1zM878 827h2v1h-2zM938 827h1v1h-1zM1154 827h4v1h-4zM1172 827h4v1h-4zM45 828h2v1h-2zM52 828h6v1h-6zM67 828h2v1h-2zM165 828h1v2h-1zM183 828h5v1h-5zM253 828h1v1h-1zM259 828h2v1h-2zM267 828h2v1h-2zM272 828h1v2h-1zM385 828h1v1h-1zM714 828h1v1h-1zM828 828h1v2h-1zM876 828h2v1h-2zM880 828h1v2h-1zM932 828h1v1h-1zM939 828h1v1h-1zM1151 828h3v1h-3zM1176 828h2v1h-2zM47 829h5v1h-5zM69 829h2v1h-2zM76 829h13v1h-13zM96 829h1v2h-1zM181 829h2v1h-2zM188 829h4v1h-4zM231 829h2v1h-2zM252 829h1v1h-1zM261 829h2v1h-2zM265 829h2v1h-2zM332 829h5v1h-5zM384 829h1v1h-1zM515 829h1v4h-1zM692 829h8v1h-8zM712 829h2v1h-2zM873 829h3v1h-3zM931 829h1v1h-1zM940 829h1v1h-1zM1151 829h1v1h-1zM1178 829h2v1h-2zM1190 829h2v1h-2zM71 830h5v1h-5zM89 830h3v1h-3zM166 830h1v2h-1zM179 830h2v1h-2zM192 830h1v2h-1zM231 830h1v1h-1zM233 830h3v1h-3zM251 830h1v2h-1zM263 830h2v1h-2zM273 830h1v2h-1zM327 830h5v1h-5zM337 830h3v1h-3zM383 830h1v1h-1zM687 830h5v1h-5zM700 830h12v1h-12zM829 830h1v2h-1zM870 830h3v1h-3zM881 830h1v2h-1zM930 830h1v1h-1zM941 830h1v1h-1zM1150 830h1v2h-1zM1180 830h1v1h-1zM1188 830h2v1h-2zM1192 830h2v1h-2zM92 831h2v1h-2zM95 831h1v2h-1zM177 831h2v1h-2zM230 831h1v2h-1zM236 831h2v1h-2zM326 831h1v1h-1zM340 831h2v1h-2zM356 831h4v1h-4zM381 831h2v1h-2zM686 831h1v1h-1zM866 831h4v1h-4zM929 831h1v2h-1zM942 831h1v1h-1zM1181 831h2v1h-2zM1185 831h3v1h-3zM1194 831h2v1h-2zM94 832h1v1h-1zM167 832h10v1h-10zM193 832h1v1h-1zM238 832h3v1h-3zM250 832h1v1h-1zM274 832h1v2h-1zM325 832h1v1h-1zM342 832h14v1h-14zM360 832h1v1h-1zM379 832h2v1h-2zM685 832h1v1h-1zM830 832h1v2h-1zM862 832h4v1h-4zM882 832h1v1h-1zM943 832h2v1h-2zM1149 832h1v2h-1zM1183 832h2v1h-2zM1196 832h1v1h-1zM194 833h1v1h-1zM229 833h1v2h-1zM241 833h3v1h-3zM249 833h1v1h-1zM324 833h1v1h-1zM361 833h1v1h-1zM377 833h2v1h-2zM516 833h1v4h-1zM684 833h1v1h-1zM860 833h2v1h-2zM883 833h1v2h-1zM928 833h1v1h-1zM945 833h2v1h-2zM1197 833h2v1h-2zM1204 833h5v1h-5zM195 834h1v2h-1zM244 834h2v1h-2zM248 834h1v1h-1zM275 834h1v2h-1zM323 834h1v2h-1zM362 834h2v1h-2zM375 834h2v1h-2zM683 834h1v1h-1zM831 834h1v2h-1zM836 834h5v1h-5zM857 834h3v1h-3zM927 834h1v1h-1zM947 834h2v1h-2zM1148 834h1v2h-1zM1199 834h5v1h-5zM1209 834h2v1h-2zM228 835h1v2h-1zM246 835h2v1h-2zM364 835h1v1h-1zM373 835h2v1h-2zM682 835h1v1h-1zM832 835h4v1h-4zM841 835h3v1h-3zM854 835h3v1h-3zM884 835h1v1h-1zM926 835h1v1h-1zM949 835h2v1h-2zM1211 835h2v1h-2zM196 836h1v1h-1zM276 836h1v2h-1zM322 836h1v1h-1zM365 836h1v1h-1zM371 836h2v1h-2zM681 836h1v1h-1zM844 836h2v1h-2zM850 836h4v1h-4zM885 836h1v2h-1zM903 836h9v1h-9zM925 836h1v2h-1zM951 836h1v3h-1zM1147 836h1v3h-1zM1213 836h2v1h-2zM197 837h1v1h-1zM227 837h1v2h-1zM321 837h1v1h-1zM366 837h1v1h-1zM369 837h2v1h-2zM517 837h1v4h-1zM680 837h1v1h-1zM846 837h4v1h-4zM902 837h1v1h-1zM912 837h1v1h-1zM1215 837h1v1h-1zM198 838h1v2h-1zM277 838h1v2h-1zM320 838h1v1h-1zM367 838h2v1h-2zM679 838h1v1h-1zM886 838h1v2h-1zM901 838h1v1h-1zM913 838h1v1h-1zM924 838h1v1h-1zM1216 838h2v1h-2zM226 839h1v2h-1zM286 839h2v1h-2zM319 839h1v1h-1zM677 839h2v1h-2zM900 839h1v1h-1zM914 839h1v1h-1zM923 839h1v1h-1zM952 839h1v5h-1zM1146 839h1v2h-1zM1218 839h2v1h-2zM199 840h1v1h-1zM278 840h1v2h-1zM284 840h2v1h-2zM288 840h1v1h-1zM318 840h1v2h-1zM675 840h2v1h-2zM887 840h2v1h-2zM898 840h2v1h-2zM915 840h1v1h-1zM922 840h1v1h-1zM1220 840h1v1h-1zM200 841h1v1h-1zM225 841h1v2h-1zM281 841h3v1h-3zM289 841h1v1h-1zM518 841h1v4h-1zM673 841h2v1h-2zM889 841h3v1h-3zM897 841h1v1h-1zM916 841h1v1h-1zM921 841h1v2h-1zM1145 841h1v2h-1zM1221 841h2v1h-2zM1228 841h6v1h-6zM1255 841h3v1h-3zM201 842h1v1h-1zM279 842h2v1h-2zM290 842h2v1h-2zM317 842h1v2h-1zM671 842h2v1h-2zM892 842h2v1h-2zM896 842h1v1h-1zM917 842h1v1h-1zM1223 842h5v1h-5zM1234 842h4v1h-4zM1254 842h1v2h-1zM1258 842h4v1h-4zM1318 842h2v1h-2zM202 843h2v1h-2zM224 843h1v2h-1zM292 843h1v1h-1zM302 843h2v1h-2zM670 843h1v2h-1zM894 843h2v1h-2zM918 843h1v1h-1zM920 843h1v1h-1zM1144 843h1v2h-1zM1238 843h2v1h-2zM1262 843h3v1h-3zM1314 843h4v1h-4zM204 844h1v1h-1zM293 844h1v1h-1zM300 844h2v1h-2zM304 844h1v1h-1zM316 844h1v2h-1zM919 844h1v1h-1zM953 844h1v6h-1zM1240 844h1v2h-1zM1253 844h1v2h-1zM1265 844h3v1h-3zM1311 844h3v1h-3zM205 845h1v1h-1zM223 845h1v2h-1zM294 845h1v1h-1zM297 845h3v1h-3zM305 845h1v2h-1zM519 845h1v3h-1zM526 845h2v1h-2zM669 845h1v1h-1zM1143 845h1v2h-1zM1268 845h2v1h-2zM1310 845h1v1h-1zM206 846h1v1h-1zM220 846h3v1h-3zM295 846h2v1h-2zM315 846h1v1h-1zM522 846h4v1h-4zM528 846h1v1h-1zM668 846h1v1h-1zM1142 846h1v1h-1zM1241 846h1v2h-1zM1252 846h1v2h-1zM1270 846h14v1h-14zM1309 846h1v2h-1zM207 847h13v1h-13zM306 847h1v1h-1zM314 847h1v2h-1zM520 847h2v1h-2zM529 847h1v1h-1zM667 847h1v2h-1zM1140 847h2v1h-2zM1284 847h12v1h-12zM307 848h1v1h-1zM530 848h1v1h-1zM1137 848h3v1h-3zM1242 848h1v1h-1zM1251 848h1v2h-1zM1296 848h1v1h-1zM1308 848h1v1h-1zM308 849h1v1h-1zM313 849h1v2h-1zM531 849h1v2h-1zM666 849h1v1h-1zM1095 849h1v1h-1zM1132 849h5v1h-5zM1243 849h1v2h-1zM1297 849h1v1h-1zM1307 849h1v1h-1zM309 850h1v2h-1zM665 850h1v1h-1zM954 850h1v5h-1zM1093 850h2v1h-2zM1096 850h1v1h-1zM1126 850h6v1h-6zM1250 850h1v2h-1zM1298 850h2v1h-2zM1306 850h1v1h-1zM312 851h1v2h-1zM532 851h1v1h-1zM664 851h1v2h-1zM1091 851h2v1h-2zM1097 851h1v2h-1zM1124 851h2v1h-2zM1244 851h1v1h-1zM1300 851h1v1h-1zM1305 851h1v2h-1zM310 852h1v1h-1zM533 852h1v1h-1zM654 852h6v1h-6zM1089 852h2v1h-2zM1121 852h3v1h-3zM1245 852h1v2h-1zM1249 852h1v2h-1zM1301 852h1v1h-1zM311 853h1v1h-1zM534 853h1v1h-1zM639 853h3v1h-3zM652 853h2v1h-2zM660 853h4v1h-4zM1087 853h2v1h-2zM1098 853h1v1h-1zM1119 853h2v1h-2zM1302 853h1v1h-1zM1304 853h1v1h-1zM535 854h13v1h-13zM638 854h1v1h-1zM642 854h4v1h-4zM649 854h3v1h-3zM1062 854h2v1h-2zM1086 854h1v1h-1zM1099 854h1v1h-1zM1117 854h2v1h-2zM1246 854h1v2h-1zM1248 854h1v2h-1zM1303 854h1v1h-1zM548 855h6v1h-6zM623 855h1v1h-1zM637 855h1v1h-1zM646 855h3v1h-3zM955 855h1v5h-1zM1058 855h4v1h-4zM1064 855h2v1h-2zM1084 855h2v1h-2zM1100 855h1v1h-1zM1115 855h2v1h-2zM554 856h4v1h-4zM564 856h4v1h-4zM607 856h1v1h-1zM622 856h1v2h-1zM624 856h1v1h-1zM636 856h1v1h-1zM1054 856h4v1h-4zM1066 856h1v1h-1zM1083 856h1v1h-1zM1101 856h1v2h-1zM1113 856h2v1h-2zM1247 856h1v1h-1zM558 857h6v1h-6zM568 857h1v1h-1zM606 857h1v2h-1zM608 857h1v1h-1zM625 857h1v1h-1zM635 857h1v2h-1zM1052 857h2v1h-2zM1067 857h1v1h-1zM1082 857h1v1h-1zM1110 857h3v1h-3zM569 858h1v1h-1zM609 858h1v2h-1zM621 858h1v1h-1zM626 858h2v1h-2zM1049 858h3v1h-3zM1068 858h2v1h-2zM1080 858h2v1h-2zM1102 858h1v1h-1zM1106 858h4v1h-4zM570 859h1v1h-1zM605 859h1v1h-1zM620 859h1v1h-1zM628 859h1v1h-1zM634 859h1v1h-1zM1047 859h2v1h-2zM1070 859h1v1h-1zM1076 859h4v1h-4zM1103 859h3v1h-3zM571 860h1v2h-1zM604 860h1v1h-1zM610 860h1v1h-1zM619 860h1v2h-1zM629 860h1v1h-1zM633 860h1v1h-1zM956 860h1v5h-1zM1047 860h1v1h-1zM1071 860h5v1h-5zM603 861h1v2h-1zM611 861h1v1h-1zM630 861h1v1h-1zM632 861h1v1h-1zM1046 861h1v3h-1zM572 862h1v1h-1zM612 862h1v1h-1zM618 862h1v1h-1zM631 862h1v1h-1zM573 863h1v1h-1zM602 863h1v1h-1zM613 863h1v2h-1zM617 863h1v1h-1zM574 864h1v1h-1zM601 864h1v1h-1zM616 864h1v2h-1zM1045 864h1v3h-1zM575 865h3v1h-3zM600 865h1v2h-1zM614 865h1v1h-1zM957 865h1v6h-1zM578 866h4v1h-4zM588 866h8v1h-8zM615 866h1v1h-1zM582 867h6v1h-6zM596 867h4v1h-4zM1044 867h1v3h-1zM1043 870h1v3h-1zM958 871h1v5h-1zM983 871h3v1h-3zM982 872h1v1h-1zM986 872h4v1h-4zM981 873h1v2h-1zM990 873h2v1h-2zM1042 873h1v3h-1zM992 874h1v1h-1zM966 875h2v1h-2zM980 875h1v1h-1zM993 875h1v1h-1zM959 876h1v3h-1zM964 876h2v1h-2zM968 876h2v1h-2zM979 876h1v1h-1zM994 876h1v1h-1zM1041 876h1v3h-1zM961 877h3v1h-3zM970 877h1v1h-1zM978 877h1v1h-1zM995 877h1v1h-1zM960 878h1v1h-1zM971 878h1v1h-1zM977 878h1v2h-1zM996 878h1v1h-1zM1023 878h9v1h-9zM972 879h2v1h-2zM997 879h1v1h-1zM1022 879h1v1h-1zM1032 879h2v1h-2zM1040 879h1v3h-1zM974 880h1v1h-1zM976 880h1v1h-1zM998 880h1v1h-1zM1021 880h1v1h-1zM1034 880h2v1h-2zM975 881h1v1h-1zM999 881h1v2h-1zM1020 881h1v1h-1zM1036 881h1v1h-1zM1019 882h1v1h-1zM1037 882h3v1h-3zM1000 883h1v2h-1zM1018 883h1v1h-1zM1039 883h1v1h-1zM1017 884h1v1h-1zM1001 885h1v2h-1zM1016 885h1v1h-1zM1015 886h1v1h-1zM1002 887h1v2h-1zM1014 887h1v2h-1zM1003 889h1v2h-1zM1013 889h1v1h-1zM1012 890h1v2h-1zM1004 891h1v2h-1zM1011 892h1v1h-1zM1005 893h1v2h-1zM1010 893h1v2h-1zM1006 895h1v2h-1zM1009 895h1v1h-1zM1008 896h1v2h-1zM1007 897h1v2h-1z" fill="#1e90ff"/>
</g>
<text x="3" y="780.8" font-size="10" fill="#000" class="k" textLength="68" lengthAdjust="spacingAndGlyphs">RSI(14) 53.8782</text>
<rect x="1628" y="770" width="1" height="1" fill="#000"/>
<text x="1631" y="779" font-size="10" fill="#000" class="k" textLength="15" lengthAdjust="spacingAndGlyphs">100</text>
<text x="1631" y="805" font-size="10" fill="#000" class="k" textLength="10" lengthAdjust="spacingAndGlyphs">80</text>
<text x="1631" y="852" font-size="10" fill="#000" class="k" textLength="10" lengthAdjust="spacingAndGlyphs">50</text>
<text x="1631" y="908" font-size="10" fill="#000" class="k" textLength="10" lengthAdjust="spacingAndGlyphs">15</text>
<rect x="1628" y="927" width="1" height="1" fill="#000"/>
<text x="1631" y="925" font-size="10" fill="#000" class="k" textLength="5" lengthAdjust="spacingAndGlyphs">0</text>
<rect x="-1" y="929" width="1" height="3" fill="#000"/>
<text x="-2.5" y="941" font-size="10" fill="#000" class="k" textLength="49.5" lengthAdjust="spacingAndGlyphs">5 Nov 2019</text>
<rect x="63" y="929" width="1" height="3" fill="#000"/>
<text x="61.5" y="941" font-size="10" fill="#000" class="k" textLength="52.3" lengthAdjust="spacingAndGlyphs">6 Nov 08:00</text>
<rect x="127" y="929" width="1" height="3" fill="#000"/>
<text x="125.5" y="941" font-size="10" fill="#000" class="k" textLength="52.3" lengthAdjust="spacingAndGlyphs">7 Nov 16:00</text>
<rect x="191" y="929" width="1" height="3" fill="#000"/>
<text x="189.5" y="941" font-size="10" fill="#000" class="k" textLength="57.4" lengthAdjust="spacingAndGlyphs">10 Nov 23:00</text>
<rect x="255" y="929" width="1" height="3" fill="#000"/>
<text x="253.5" y="941" font-size="10" fill="#000" class="k" textLength="57.4" lengthAdjust="spacingAndGlyphs">12 Nov 04:00</text>
<rect x="319" y="929" width="1" height="3" fill="#000"/>
<text x="317.5" y="941" font-size="10" fill="#000" class="k" textLength="57.4" lengthAdjust="spacingAndGlyphs">13 Nov 12:00</text>
<rect x="383" y="929" width="1" height="3" fill="#000"/>
<text x="381.5" y="941" font-size="10" fill="#000" class="k" textLength="57.4" lengthAdjust="spacingAndGlyphs">14 Nov 20:00</text>
<rect x="447" y="929" width="1" height="3" fill="#000"/>
<text x="445.5" y="941" font-size="10" fill="#000" class="k" textLength="57.4" lengthAdjust="spacingAndGlyphs">18 Nov 00:00</text>
<rect x="511" y="929" width="1" height="3" fill="#000"/>
<text x="509.5" y="941" font-size="10" fill="#000" class="k" textLength="57.4" lengthAdjust="spacingAndGlyphs">19 Nov 08:00</text>
<rect x="575" y="929" width="1" height="3" fill="#000"/>
<text x="573.5" y="941" font-size="10" fill="#000" class="k" textLength="57.4" lengthAdjust="spacingAndGlyphs">20 Nov 16:00</text>
<rect x="639" y="929" width="1" height="3" fill="#000"/>
<text x="637.5" y="941" font-size="10" fill="#000" class="k" textLength="57.4" lengthAdjust="spacingAndGlyphs">22 Nov 00:00</text>
<rect x="703" y="929" width="1" height="3" fill="#000"/>
<text x="701.5" y="941" font-size="10" fill="#000" class="k" textLength="57.4" lengthAdjust="spacingAndGlyphs">25 Nov 04:00</text>
<rect x="767" y="929" width="1" height="3" fill="#000"/>
<text x="765.5" y="941" font-size="10" fill="#000" class="k" textLength="57.4" lengthAdjust="spacingAndGlyphs">26 Nov 12:00</text>
<rect x="831" y="929" width="1" height="3" fill="#000"/>
<text x="829.5" y="941" font-size="10" fill="#000" class="k" textLength="57.4" lengthAdjust="spacingAndGlyphs">27 Nov 20:00</text>
<rect x="895" y="929" width="1" height="3" fill="#000"/>
<text x="893.5" y="941" font-size="10" fill="#000" class="k" textLength="57.4" lengthAdjust="spacingAndGlyphs">29 Nov 04:00</text>
<rect x="959" y="929" width="1" height="3" fill="#000"/>
<text x="957.5" y="941" font-size="10" fill="#000" class="k" textLength="49" lengthAdjust="spacingAndGlyphs">2 Dec 12:00</text>
<rect x="1023" y="929" width="1" height="3" fill="#000"/>
<text x="1021.5" y="941" font-size="10" fill="#000" class="k" textLength="49" lengthAdjust="spacingAndGlyphs">3 Dec 20:00</text>
<rect x="1087" y="929" width="1" height="3" fill="#000"/>
<text x="1085.5" y="941" font-size="10" fill="#000" class="k" textLength="49" lengthAdjust="spacingAndGlyphs">5 Dec 04:00</text>
<rect x="1151" y="929" width="1" height="3" fill="#000"/>
<text x="1149.5" y="941" font-size="10" fill="#000" class="k" textLength="49" lengthAdjust="spacingAndGlyphs">6 Dec 12:00</text>
<rect x="1215" y="929" width="1" height="3" fill="#000"/>
<text x="1213.5" y="941" font-size="10" fill="#000" class="k" textLength="49" lengthAdjust="spacingAndGlyphs">9 Dec 16:00</text>
<rect x="1279" y="929" width="1" height="3" fill="#000"/>
<text x="1277.5" y="941" font-size="10" fill="#000" class="k" textLength="54.1" lengthAdjust="spacingAndGlyphs">11 Dec 00:00</text>
</svg>
<div id="tp">
<div style="left:0;top:0;width:52px;height:25px;background:linear-gradient(#5a5af8,#3a3aee)"></div>
<div style="left:4px;top:23px;width:44px;height:1px;background:#8a8aff"></div>
<div style="left:167px;top:0;width:52px;height:25px;background:linear-gradient(#5a5af8,#3a3aee)"></div>
<div style="left:171px;top:23px;width:44px;height:1px;background:#8a8aff"></div>
<div style="left:0;top:24px;width:109px;height:40px;background:linear-gradient(#3232ec,#0808b8)"></div>
<div style="left:111px;top:24px;width:108px;height:40px;background:linear-gradient(#3232ec,#0808b8)"></div>
<div style="left:52px;top:0;width:115px;height:24px;background:#fff"></div>
<div style="left:54px;top:0px;width:111px;height:22px;background:#fff;border:1px solid #c4c4c4;box-sizing:border-box"></div>
<div style="left:55px;top:1px;width:20px;height:20px;background:#e8e8e8;border-right:1px solid #c4c4c4"></div>
<div style="left:143px;top:1px;width:21px;height:20px;background:#e8e8e8;border-left:1px solid #c4c4c4;box-sizing:border-box"></div>
<div style="left:62px;top:9px;width:0;height:0;border-left:3px solid transparent;border-right:3px solid transparent;border-top:3px solid #000"></div>
<div style="left:150px;top:9px;width:0;height:0;border-left:3px solid transparent;border-right:3px solid transparent;border-bottom:3px solid #000"></div>
<div class="t" style="left:116px;top:4px;font-size:12.5px;color:#222">1.00</div>
<div class="t" style="left:12px;top:5.5px;font-size:11.5px;color:#fff;transform:scaleX(0.9);transform-origin:left">SELL</div>
<div class="t" style="left:180px;top:5.5px;font-size:11.5px;color:#fff">BUY</div>
<div class="t" style="left:16px;top:43.5px;font-size:12.4px;font-weight:700;color:#fff;letter-spacing:0.05px">27924</div>
<div class="t" style="left:55px;top:24.5px;font-size:33px;color:#fff;letter-spacing:-1px;transform:scaleX(0.88);transform-origin:left">.5</div>
<div class="t" style="left:126px;top:43.5px;font-size:12.4px;font-weight:700;color:#fff;letter-spacing:0.05px">27932</div>
<div class="t" style="left:165px;top:24.5px;font-size:33px;color:#fff;letter-spacing:-1px;transform:scaleX(0.88);transform-origin:left">.5</div>
</div>
</body></html>
